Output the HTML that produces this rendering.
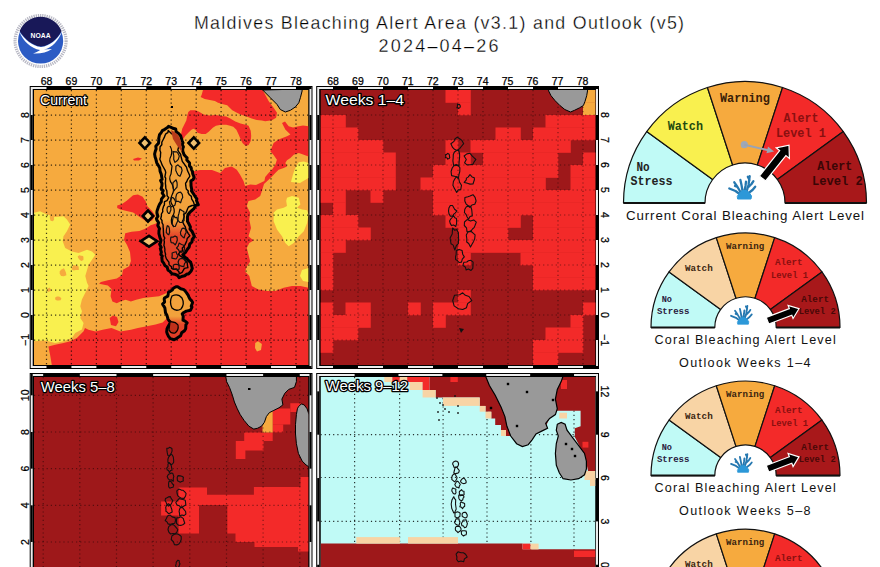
<!DOCTYPE html><html><head><meta charset="utf-8"><style>html,body{margin:0;padding:0;background:#fff;width:880px;height:567px;overflow:hidden}svg{display:block}text{font-family:"Liberation Sans",sans-serif}</style></head><body>
<svg width="880" height="567" viewBox="0 0 880 567">
<rect width="880" height="567" fill="#fff"/>
<defs>
<clipPath id="c1"><rect x="34" y="90" width="274.5" height="275"/></clipPath>
<clipPath id="c2"><rect x="320.5" y="90" width="275" height="275"/></clipPath>
<clipPath id="c3"><rect x="34" y="377" width="274.5" height="200"/></clipPath>
<clipPath id="c4"><rect x="320.5" y="377" width="275" height="200"/></clipPath>
</defs>
<text x="194" y="29.3" font-size="17.8" textLength="490" lengthAdjust="spacing" fill="#000" stroke="#fff" stroke-width="0.3">Maldives Bleaching Alert Area (v3.1) and Outlook (v5)</text>
<text x="378.5" y="51.8" font-size="18" textLength="120" lengthAdjust="spacing" fill="#000" stroke="#fff" stroke-width="0.3">2024–04–26</text>
<g>
<circle cx="40.6" cy="41" r="25.5" fill="none" stroke="#b8b8c4" stroke-width="3.2" stroke-dasharray="1.3 0.9"/>
<circle cx="40.6" cy="41" r="22.6" fill="#2c5bc4"/>
<path d="M19.6,31 A22.6,22.6 0 0 1 61.6,31 C57,39 50,45.5 41,46.5 C32,45.5 25,39 19.6,31 Z" fill="#181858"/>
<path d="M19.3,31.5 C25,39.5 32,46 41,47 C50,46 57,39.5 61.9,31.5 C59,40 52,48 44,49.5 L52,49 C47,52.5 40,54 33,53.5 C37,52 39,51 40,50 C31,48.5 23,41 19.3,31.5 Z" fill="#fff"/>
<text x="40.6" y="37.6" font-size="8" font-weight="bold" fill="#fff" text-anchor="middle" textLength="20" lengthAdjust="spacingAndGlyphs">NOAA</text>
</g>
<rect x="29.70" y="86.00" width="282.80" height="283.00" fill="#000" />
<rect x="30.70" y="87.00" width="280.80" height="281.00" fill="#ececec" />
<rect x="46.48" y="87.00" width="24.95" height="2.00" fill="#000" />
<rect x="46.48" y="366.00" width="24.95" height="2.00" fill="#000" />
<rect x="96.38" y="87.00" width="24.95" height="2.00" fill="#000" />
<rect x="96.38" y="366.00" width="24.95" height="2.00" fill="#000" />
<rect x="146.27" y="87.00" width="24.95" height="2.00" fill="#000" />
<rect x="146.27" y="366.00" width="24.95" height="2.00" fill="#000" />
<rect x="196.17" y="87.00" width="24.95" height="2.00" fill="#000" />
<rect x="196.17" y="366.00" width="24.95" height="2.00" fill="#000" />
<rect x="246.07" y="87.00" width="24.95" height="2.00" fill="#000" />
<rect x="246.07" y="366.00" width="24.95" height="2.00" fill="#000" />
<rect x="295.97" y="87.00" width="15.53" height="2.00" fill="#000" />
<rect x="295.97" y="366.00" width="15.53" height="2.00" fill="#000" />
<rect x="30.70" y="115.00" width="2.00" height="25.00" fill="#000" />
<rect x="309.50" y="115.00" width="2.00" height="25.00" fill="#000" />
<rect x="30.70" y="165.00" width="2.00" height="25.00" fill="#000" />
<rect x="309.50" y="165.00" width="2.00" height="25.00" fill="#000" />
<rect x="30.70" y="215.00" width="2.00" height="25.00" fill="#000" />
<rect x="309.50" y="215.00" width="2.00" height="25.00" fill="#000" />
<rect x="30.70" y="265.00" width="2.00" height="25.00" fill="#000" />
<rect x="309.50" y="265.00" width="2.00" height="25.00" fill="#000" />
<rect x="30.70" y="315.00" width="2.00" height="25.00" fill="#000" />
<rect x="309.50" y="315.00" width="2.00" height="25.00" fill="#000" />
<rect x="32.70" y="89.00" width="276.80" height="277.00" fill="#000" />
<rect x="316.20" y="86.00" width="282.80" height="283.00" fill="#000" />
<rect x="317.20" y="87.00" width="280.80" height="281.00" fill="#ececec" />
<rect x="333.00" y="87.00" width="25.00" height="2.00" fill="#000" />
<rect x="333.00" y="366.00" width="25.00" height="2.00" fill="#000" />
<rect x="383.00" y="87.00" width="25.00" height="2.00" fill="#000" />
<rect x="383.00" y="366.00" width="25.00" height="2.00" fill="#000" />
<rect x="433.00" y="87.00" width="25.00" height="2.00" fill="#000" />
<rect x="433.00" y="366.00" width="25.00" height="2.00" fill="#000" />
<rect x="483.00" y="87.00" width="25.00" height="2.00" fill="#000" />
<rect x="483.00" y="366.00" width="25.00" height="2.00" fill="#000" />
<rect x="533.00" y="87.00" width="25.00" height="2.00" fill="#000" />
<rect x="533.00" y="366.00" width="25.00" height="2.00" fill="#000" />
<rect x="583.00" y="87.00" width="15.00" height="2.00" fill="#000" />
<rect x="583.00" y="366.00" width="15.00" height="2.00" fill="#000" />
<rect x="317.20" y="115.00" width="2.00" height="25.00" fill="#000" />
<rect x="596.00" y="115.00" width="2.00" height="25.00" fill="#000" />
<rect x="317.20" y="165.00" width="2.00" height="25.00" fill="#000" />
<rect x="596.00" y="165.00" width="2.00" height="25.00" fill="#000" />
<rect x="317.20" y="215.00" width="2.00" height="25.00" fill="#000" />
<rect x="596.00" y="215.00" width="2.00" height="25.00" fill="#000" />
<rect x="317.20" y="265.00" width="2.00" height="25.00" fill="#000" />
<rect x="596.00" y="265.00" width="2.00" height="25.00" fill="#000" />
<rect x="317.20" y="315.00" width="2.00" height="25.00" fill="#000" />
<rect x="596.00" y="315.00" width="2.00" height="25.00" fill="#000" />
<rect x="319.20" y="89.00" width="276.80" height="277.00" fill="#000" />
<rect x="29.70" y="373.00" width="282.80" height="227.00" fill="#000" />
<rect x="30.70" y="374.00" width="280.80" height="225.00" fill="#ececec" />
<rect x="43.16" y="374.00" width="36.66" height="2.00" fill="#000" />
<rect x="43.16" y="597.00" width="36.66" height="2.00" fill="#000" />
<rect x="116.48" y="374.00" width="36.66" height="2.00" fill="#000" />
<rect x="116.48" y="597.00" width="36.66" height="2.00" fill="#000" />
<rect x="189.80" y="374.00" width="36.66" height="2.00" fill="#000" />
<rect x="189.80" y="597.00" width="36.66" height="2.00" fill="#000" />
<rect x="263.12" y="374.00" width="36.66" height="2.00" fill="#000" />
<rect x="263.12" y="597.00" width="36.66" height="2.00" fill="#000" />
<rect x="30.70" y="374.00" width="2.00" height="21.33" fill="#000" />
<rect x="309.50" y="374.00" width="2.00" height="21.33" fill="#000" />
<rect x="30.70" y="431.99" width="2.00" height="36.66" fill="#000" />
<rect x="309.50" y="431.99" width="2.00" height="36.66" fill="#000" />
<rect x="30.70" y="505.31" width="2.00" height="36.66" fill="#000" />
<rect x="309.50" y="505.31" width="2.00" height="36.66" fill="#000" />
<rect x="30.70" y="578.63" width="2.00" height="36.66" fill="#000" />
<rect x="309.50" y="578.63" width="2.00" height="36.66" fill="#000" />
<rect x="32.70" y="376.00" width="276.80" height="221.00" fill="#000" />
<rect x="316.20" y="373.00" width="282.80" height="227.00" fill="#000" />
<rect x="317.20" y="374.00" width="280.80" height="225.00" fill="#ececec" />
<rect x="354.60" y="374.00" width="43.89" height="2.00" fill="#000" />
<rect x="354.60" y="597.00" width="43.89" height="2.00" fill="#000" />
<rect x="442.38" y="374.00" width="43.89" height="2.00" fill="#000" />
<rect x="442.38" y="597.00" width="43.89" height="2.00" fill="#000" />
<rect x="530.16" y="374.00" width="43.89" height="2.00" fill="#000" />
<rect x="530.16" y="597.00" width="43.89" height="2.00" fill="#000" />
<rect x="317.20" y="391.35" width="2.00" height="43.35" fill="#000" />
<rect x="596.00" y="391.35" width="2.00" height="43.35" fill="#000" />
<rect x="317.20" y="478.05" width="2.00" height="43.35" fill="#000" />
<rect x="596.00" y="478.05" width="2.00" height="43.35" fill="#000" />
<rect x="317.20" y="564.75" width="2.00" height="43.35" fill="#000" />
<rect x="596.00" y="564.75" width="2.00" height="43.35" fill="#000" />
<rect x="319.20" y="376.00" width="276.80" height="221.00" fill="#000" />
<text x="46.5" y="84.5" font-size="10.5" text-anchor="middle" fill="#000" stroke="#000" stroke-width="0.25">68</text>
<text x="333.0" y="84.5" font-size="10.5" text-anchor="middle" fill="#000" stroke="#000" stroke-width="0.25">68</text>
<text x="71.4" y="84.5" font-size="10.5" text-anchor="middle" fill="#000" stroke="#000" stroke-width="0.25">69</text>
<text x="357.9" y="84.5" font-size="10.5" text-anchor="middle" fill="#000" stroke="#000" stroke-width="0.25">69</text>
<text x="96.4" y="84.5" font-size="10.5" text-anchor="middle" fill="#000" stroke="#000" stroke-width="0.25">70</text>
<text x="382.9" y="84.5" font-size="10.5" text-anchor="middle" fill="#000" stroke="#000" stroke-width="0.25">70</text>
<text x="121.3" y="84.5" font-size="10.5" text-anchor="middle" fill="#000" stroke="#000" stroke-width="0.25">71</text>
<text x="407.8" y="84.5" font-size="10.5" text-anchor="middle" fill="#000" stroke="#000" stroke-width="0.25">71</text>
<text x="146.3" y="84.5" font-size="10.5" text-anchor="middle" fill="#000" stroke="#000" stroke-width="0.25">72</text>
<text x="432.8" y="84.5" font-size="10.5" text-anchor="middle" fill="#000" stroke="#000" stroke-width="0.25">72</text>
<text x="171.2" y="84.5" font-size="10.5" text-anchor="middle" fill="#000" stroke="#000" stroke-width="0.25">73</text>
<text x="457.7" y="84.5" font-size="10.5" text-anchor="middle" fill="#000" stroke="#000" stroke-width="0.25">73</text>
<text x="196.2" y="84.5" font-size="10.5" text-anchor="middle" fill="#000" stroke="#000" stroke-width="0.25">74</text>
<text x="482.7" y="84.5" font-size="10.5" text-anchor="middle" fill="#000" stroke="#000" stroke-width="0.25">74</text>
<text x="221.1" y="84.5" font-size="10.5" text-anchor="middle" fill="#000" stroke="#000" stroke-width="0.25">75</text>
<text x="507.6" y="84.5" font-size="10.5" text-anchor="middle" fill="#000" stroke="#000" stroke-width="0.25">75</text>
<text x="246.1" y="84.5" font-size="10.5" text-anchor="middle" fill="#000" stroke="#000" stroke-width="0.25">76</text>
<text x="532.6" y="84.5" font-size="10.5" text-anchor="middle" fill="#000" stroke="#000" stroke-width="0.25">76</text>
<text x="271.0" y="84.5" font-size="10.5" text-anchor="middle" fill="#000" stroke="#000" stroke-width="0.25">77</text>
<text x="557.5" y="84.5" font-size="10.5" text-anchor="middle" fill="#000" stroke="#000" stroke-width="0.25">77</text>
<text x="296.0" y="84.5" font-size="10.5" text-anchor="middle" fill="#000" stroke="#000" stroke-width="0.25">78</text>
<text x="582.5" y="84.5" font-size="10.5" text-anchor="middle" fill="#000" stroke="#000" stroke-width="0.25">78</text>
<text transform="translate(28.5,115.0) rotate(-90)" font-size="10.5" text-anchor="middle" fill="#000" stroke="#000" stroke-width="0.25">8</text>
<text transform="translate(600.5,115.0) rotate(90)" font-size="10.5" text-anchor="middle" fill="#000" stroke="#000" stroke-width="0.25">8</text>
<text transform="translate(28.5,140.0) rotate(-90)" font-size="10.5" text-anchor="middle" fill="#000" stroke="#000" stroke-width="0.25">7</text>
<text transform="translate(600.5,140.0) rotate(90)" font-size="10.5" text-anchor="middle" fill="#000" stroke="#000" stroke-width="0.25">7</text>
<text transform="translate(28.5,165.0) rotate(-90)" font-size="10.5" text-anchor="middle" fill="#000" stroke="#000" stroke-width="0.25">6</text>
<text transform="translate(600.5,165.0) rotate(90)" font-size="10.5" text-anchor="middle" fill="#000" stroke="#000" stroke-width="0.25">6</text>
<text transform="translate(28.5,190.0) rotate(-90)" font-size="10.5" text-anchor="middle" fill="#000" stroke="#000" stroke-width="0.25">5</text>
<text transform="translate(600.5,190.0) rotate(90)" font-size="10.5" text-anchor="middle" fill="#000" stroke="#000" stroke-width="0.25">5</text>
<text transform="translate(28.5,215.0) rotate(-90)" font-size="10.5" text-anchor="middle" fill="#000" stroke="#000" stroke-width="0.25">4</text>
<text transform="translate(600.5,215.0) rotate(90)" font-size="10.5" text-anchor="middle" fill="#000" stroke="#000" stroke-width="0.25">4</text>
<text transform="translate(28.5,240.0) rotate(-90)" font-size="10.5" text-anchor="middle" fill="#000" stroke="#000" stroke-width="0.25">3</text>
<text transform="translate(600.5,240.0) rotate(90)" font-size="10.5" text-anchor="middle" fill="#000" stroke="#000" stroke-width="0.25">3</text>
<text transform="translate(28.5,265.0) rotate(-90)" font-size="10.5" text-anchor="middle" fill="#000" stroke="#000" stroke-width="0.25">2</text>
<text transform="translate(600.5,265.0) rotate(90)" font-size="10.5" text-anchor="middle" fill="#000" stroke="#000" stroke-width="0.25">2</text>
<text transform="translate(28.5,290.0) rotate(-90)" font-size="10.5" text-anchor="middle" fill="#000" stroke="#000" stroke-width="0.25">1</text>
<text transform="translate(600.5,290.0) rotate(90)" font-size="10.5" text-anchor="middle" fill="#000" stroke="#000" stroke-width="0.25">1</text>
<text transform="translate(28.5,315.0) rotate(-90)" font-size="10.5" text-anchor="middle" fill="#000" stroke="#000" stroke-width="0.25">0</text>
<text transform="translate(600.5,315.0) rotate(90)" font-size="10.5" text-anchor="middle" fill="#000" stroke="#000" stroke-width="0.25">0</text>
<text transform="translate(28.5,340.0) rotate(-90)" font-size="10.5" text-anchor="middle" fill="#000" stroke="#000" stroke-width="0.25">−1</text>
<text transform="translate(600.5,340.0) rotate(90)" font-size="10.5" text-anchor="middle" fill="#000" stroke="#000" stroke-width="0.25">−1</text>
<text transform="translate(28.5,395.3) rotate(-90)" font-size="10.5" text-anchor="middle" fill="#000" stroke="#000" stroke-width="0.25">10</text>
<text transform="translate(28.5,432.0) rotate(-90)" font-size="10.5" text-anchor="middle" fill="#000" stroke="#000" stroke-width="0.25">8</text>
<text transform="translate(28.5,468.6) rotate(-90)" font-size="10.5" text-anchor="middle" fill="#000" stroke="#000" stroke-width="0.25">6</text>
<text transform="translate(28.5,505.3) rotate(-90)" font-size="10.5" text-anchor="middle" fill="#000" stroke="#000" stroke-width="0.25">4</text>
<text transform="translate(28.5,542.0) rotate(-90)" font-size="10.5" text-anchor="middle" fill="#000" stroke="#000" stroke-width="0.25">2</text>
<text transform="translate(600.5,391.4) rotate(90)" font-size="10.5" text-anchor="middle" fill="#000" stroke="#000" stroke-width="0.25">12</text>
<text transform="translate(600.5,434.7) rotate(90)" font-size="10.5" text-anchor="middle" fill="#000" stroke="#000" stroke-width="0.25">9</text>
<text transform="translate(600.5,478.0) rotate(90)" font-size="10.5" text-anchor="middle" fill="#000" stroke="#000" stroke-width="0.25">6</text>
<text transform="translate(600.5,521.4) rotate(90)" font-size="10.5" text-anchor="middle" fill="#000" stroke="#000" stroke-width="0.25">3</text>
<text transform="translate(600.5,564.8) rotate(90)" font-size="10.5" text-anchor="middle" fill="#000" stroke="#000" stroke-width="0.25">0</text>
<g clip-path="url(#c1)">
<rect x="34.00" y="90.00" width="274.50" height="275.00" fill="#F6AA3E" />
<polygon points="34.0,212.8 40.0,211.2 45.1,213.7 55.1,217.0 63.5,216.2 66.9,219.5 70.2,224.6 66.9,231.3 63.5,236.3 62.7,241.3 65.2,248.0 71.9,251.4 78.6,253.0 87.0,249.7 92.0,251.4 95.3,254.7 92.0,259.8 88.6,264.8 85.3,276.0 87.0,282.7 88.6,286.0 85.3,292.8 81.9,299.5 80.3,306.2 81.9,311.2 80.3,317.9 83.6,322.9 81.9,329.6 75.2,333.0 71.9,338.0 63.5,341.3 55.1,343.0 48.4,341.3 43.4,340.5 34.0,341.3" fill="#F9F04F" />
<polygon points="54.1,217.5 54.1,219.9 52.5,221.3 50.6,220.8 49.9,218.6 49.7,216.3 51.0,215.1 52.5,213.2 53.9,215.2" fill="#F6AA3E" stroke="#F6AA3E" stroke-width="0" stroke-linejoin="round"/>
<polygon points="83.5,257.8 83.4,260.0 81.3,260.9 79.6,259.8 78.5,258.6 77.6,256.6 79.3,255.2 81.2,255.7 83.1,255.9" fill="#F6AA3E" stroke="#F6AA3E" stroke-width="0" stroke-linejoin="round"/>
<polygon points="65.9,272.5 66.4,275.2 63.8,276.3 61.1,276.1 59.7,273.7 59.7,271.3 61.5,269.6 63.9,268.2 65.2,270.8" fill="#F6AA3E" stroke="#F6AA3E" stroke-width="0" stroke-linejoin="round"/>
<polygon points="78.8,267.8 78.8,269.9 76.0,270.1 73.5,270.5 71.4,268.9 72.4,266.9 73.5,265.0 76.0,265.4 78.3,265.9" fill="#F6AA3E" stroke="#F6AA3E" stroke-width="0" stroke-linejoin="round"/>
<polygon points="61.4,298.5 60.6,300.3 58.6,300.5 56.9,300.6 55.2,299.5 55.2,297.5 56.9,296.4 58.6,296.4 60.1,297.1" fill="#F6AA3E" stroke="#F6AA3E" stroke-width="0" stroke-linejoin="round"/>
<polygon points="51.2,290.0 50.4,291.2 49.3,291.6 47.8,292.0 47.4,290.6 47.0,289.3 48.1,288.5 49.4,287.6 50.4,288.8" fill="#F6AA3E" stroke="#F6AA3E" stroke-width="0" stroke-linejoin="round"/>
<polygon points="287.0,197.8 292.0,196.1 298.8,197.8 300.4,204.5 297.1,207.8 302.1,209.5 307.1,210.3 308.5,214.5 307.1,222.9 303.8,231.3 298.8,236.3 293.7,243.0 288.7,246.3 285.3,243.0 282.0,236.3 277.0,229.6 273.6,221.2 273.6,212.8 277.0,209.5 283.7,207.8 287.0,206.1 286.2,201.1" fill="#F9F04F" />
<polygon points="298.8,162.2 303.8,161.4 308.5,163.1 308.5,178.0 300.0,183.0 291.0,182.0 292.9,174.8 294.6,169.8 297.1,164.8" fill="#F9F04F" />
<polygon points="302.0,270.0 308.5,268.0 308.5,282.0 303.0,281.0 300.0,276.0" fill="#F9F04F" />
<polygon points="203.0,90.0 201.6,95.0 200.6,97.0 204.7,99.1 209.8,100.1 214.9,101.1 218.0,102.7 223.1,104.2 227.2,105.2 230.2,108.3 232.3,110.3 236.4,112.4 240.5,114.4 246.6,116.5 251.7,118.5 256.8,120.1 261.9,120.5 265.2,121.2 271.9,120.3 276.1,117.8 277.0,112.8 273.6,107.8 268.6,101.1 262.7,90.0" fill="#F32A29" />
<polygon points="187.3,115.5 188.3,111.9 190.3,110.3 195.5,110.3 199.5,111.9 203.6,114.4 209.8,115.5 215.9,114.9 221.0,116.0 226.1,116.5 230.2,118.5 235.3,121.6 240.5,123.6 245.6,124.7 248.6,125.7 250.7,130.8 251.2,135.9 250.7,141.0 248.6,145.1 245.6,146.1 242.5,143.1 240.5,139.0 238.4,133.9 236.4,129.8 233.3,126.7 230.2,125.7 226.1,124.7 221.0,124.7 215.9,125.7 212.8,127.7 208.7,131.8 205.7,133.9 201.6,133.9 197.5,132.8 195.5,129.8 193.4,128.7 191.4,129.8 188.3,132.8 185.2,135.9 183.2,139.0 178.0,140.0 175.0,136.0 181.1,133.9 182.2,128.7 184.2,124.7 186.3,120.6" fill="#F32A29" />
<polygon points="212.0,170.0 220.0,173.1 225.0,168.1 231.7,166.4 236.8,169.8 240.1,174.8 243.5,181.0 245.1,186.0 250.2,184.4 256.0,185.0 264.4,181.0 265.2,177.0 268.6,173.0 271.9,169.8 275.3,164.8 276.9,159.7 273.6,155.0 270.3,151.3 273.6,143.0 278.6,139.6 287.0,136.3 290.4,134.6 285.3,129.6 282.0,122.9 285.0,121.5 288.7,126.2 293.0,127.5 298.8,126.2 303.0,125.4 308.5,126.2 308.5,156.4 303.8,154.7 298.8,153.0 293.7,154.7 290.4,158.0 287.0,160.2 285.3,163.1 287.0,166.4 283.7,168.1 278.6,169.8 275.3,173.1 272.0,176.5 268.6,179.8 264.0,184.0 261.9,191.0 260.2,196.1 255.2,199.4 248.5,201.1 246.8,206.1 250.2,212.8 249.3,219.5 251.0,227.9 248.5,236.3 253.5,240.5 249.3,243.0 246.8,248.0 248.5,254.7 250.2,261.4 246.8,266.5 245.1,271.5 249.3,276.0 251.8,286.1 258.5,289.4 266.9,291.1 275.3,291.1 283.7,287.7 292.0,286.1 300.4,286.1 308.5,287.7 308.5,365.0 51.8,365.0 50.1,354.8 48.4,346.4 55.1,344.7 63.5,343.0 70.2,341.3 76.9,338.0 83.6,331.3 85.0,327.9 88.5,329.7 95.6,331.5 102.6,329.7 111.5,327.9 120.3,331.5 130.9,329.7 137.9,327.9 146.8,326.2 155.6,324.4 162.6,322.6 166.2,319.1 168.0,310.0 168.0,300.0 171.5,290.9 167.9,292.6 159.1,296.2 152.1,297.1 143.2,297.9 136.2,299.7 130.9,301.5 125.6,299.7 120.3,301.5 116.8,303.2 112.4,301.5 110.6,296.2 111.5,289.1 107.9,285.6 99.1,283.8 100.9,282.1 107.9,280.3 116.8,278.5 122.1,275.0 122.9,269.7 129.1,266.2 130.9,260.9 130.0,252.1 127.0,245.0 124.0,240.0 125.2,233.3 131.5,231.7 139.4,230.9 145.8,228.5 150.6,225.3 155.3,223.7 158.5,222.1 160.0,210.0 165.0,195.0 175.0,180.0 190.0,172.0 200.0,170.0" fill="#F32A29" />
<polygon points="117.2,205.5 122.0,203.9 126.7,200.7 133.1,195.2 137.9,194.4 142.6,196.7 145.8,201.5 147.4,206.3 152.1,211.0 155.3,215.8 152.1,220.6 147.4,222.1 142.6,219.0 137.9,215.8 133.1,212.6 126.7,211.0 120.4,209.4 117.2,207.9" fill="#F32A29" />
<polygon points="109.7,318.0 113.0,315.6 117.0,317.0 118.5,322.0 116.0,326.2 111.0,325.0" fill="#F32A29" />
<polygon points="255.2,343.0 258.0,341.3 261.9,344.0 261.0,350.0 257.0,351.4 255.0,348.0" fill="#F6AA3E" />
<polygon points="133.0,159.0 138.0,157.5 142.0,158.5 139.0,160.6 134.0,160.6" fill="#F32A29" />
<line x1="46.5" y1="90" x2="46.5" y2="365" stroke="#000" stroke-opacity="0.75" stroke-width="1.25" stroke-dasharray="1.25 2.95"/>
<line x1="71.4" y1="90" x2="71.4" y2="365" stroke="#000" stroke-opacity="0.75" stroke-width="1.25" stroke-dasharray="1.25 2.95"/>
<line x1="96.4" y1="90" x2="96.4" y2="365" stroke="#000" stroke-opacity="0.75" stroke-width="1.25" stroke-dasharray="1.25 2.95"/>
<line x1="121.3" y1="90" x2="121.3" y2="365" stroke="#000" stroke-opacity="0.75" stroke-width="1.25" stroke-dasharray="1.25 2.95"/>
<line x1="146.3" y1="90" x2="146.3" y2="365" stroke="#000" stroke-opacity="0.75" stroke-width="1.25" stroke-dasharray="1.25 2.95"/>
<line x1="171.2" y1="90" x2="171.2" y2="365" stroke="#000" stroke-opacity="0.75" stroke-width="1.25" stroke-dasharray="1.25 2.95"/>
<line x1="196.2" y1="90" x2="196.2" y2="365" stroke="#000" stroke-opacity="0.75" stroke-width="1.25" stroke-dasharray="1.25 2.95"/>
<line x1="221.1" y1="90" x2="221.1" y2="365" stroke="#000" stroke-opacity="0.75" stroke-width="1.25" stroke-dasharray="1.25 2.95"/>
<line x1="246.1" y1="90" x2="246.1" y2="365" stroke="#000" stroke-opacity="0.75" stroke-width="1.25" stroke-dasharray="1.25 2.95"/>
<line x1="271.0" y1="90" x2="271.0" y2="365" stroke="#000" stroke-opacity="0.75" stroke-width="1.25" stroke-dasharray="1.25 2.95"/>
<line x1="296.0" y1="90" x2="296.0" y2="365" stroke="#000" stroke-opacity="0.75" stroke-width="1.25" stroke-dasharray="1.25 2.95"/>
<line x1="34" y1="115.0" x2="308.5" y2="115.0" stroke="#000" stroke-opacity="0.75" stroke-width="1.25" stroke-dasharray="1.25 2.95"/>
<line x1="34" y1="140.0" x2="308.5" y2="140.0" stroke="#000" stroke-opacity="0.75" stroke-width="1.25" stroke-dasharray="1.25 2.95"/>
<line x1="34" y1="165.0" x2="308.5" y2="165.0" stroke="#000" stroke-opacity="0.75" stroke-width="1.25" stroke-dasharray="1.25 2.95"/>
<line x1="34" y1="190.0" x2="308.5" y2="190.0" stroke="#000" stroke-opacity="0.75" stroke-width="1.25" stroke-dasharray="1.25 2.95"/>
<line x1="34" y1="215.0" x2="308.5" y2="215.0" stroke="#000" stroke-opacity="0.75" stroke-width="1.25" stroke-dasharray="1.25 2.95"/>
<line x1="34" y1="240.0" x2="308.5" y2="240.0" stroke="#000" stroke-opacity="0.75" stroke-width="1.25" stroke-dasharray="1.25 2.95"/>
<line x1="34" y1="265.0" x2="308.5" y2="265.0" stroke="#000" stroke-opacity="0.75" stroke-width="1.25" stroke-dasharray="1.25 2.95"/>
<line x1="34" y1="290.0" x2="308.5" y2="290.0" stroke="#000" stroke-opacity="0.75" stroke-width="1.25" stroke-dasharray="1.25 2.95"/>
<line x1="34" y1="315.0" x2="308.5" y2="315.0" stroke="#000" stroke-opacity="0.75" stroke-width="1.25" stroke-dasharray="1.25 2.95"/>
<line x1="34" y1="340.0" x2="308.5" y2="340.0" stroke="#000" stroke-opacity="0.75" stroke-width="1.25" stroke-dasharray="1.25 2.95"/>
<polygon points="262.7,90.0 270.3,97.7 277.0,104.4 280.3,109.5 285.3,112.0 290.4,110.3 295.4,106.9 298.8,102.8 300.4,97.7 302.1,91.0 302.1,89.0" fill="#999999" stroke="#000" stroke-width="1"/>
<defs><linearGradient id="ang" x1="0" y1="126" x2="0" y2="278" gradientUnits="userSpaceOnUse"><stop offset="0" stop-color="#F2A23C"/><stop offset="0.62" stop-color="#F2A23C"/><stop offset="0.72" stop-color="#E4482A"/><stop offset="1" stop-color="#E03A26"/></linearGradient></defs>
<polygon points="168.5,126.3 167.5,127.6 164.8,129.3 162.3,130.6 161.2,132.6 159.5,134.7 158.7,138.6 158.9,139.4 158.5,143.2 157.1,144.8 155.8,146.3 156.1,148.9 155.2,151.5 154.6,154.1 155.1,157.0 155.8,158.9 156.3,161.2 156.7,162.7 158.8,166.2 159.7,167.9 159.9,169.3 160.1,171.3 161.2,174.1 161.6,176.3 162.1,179.4 160.6,180.5 162.0,183.4 161.9,185.8 161.1,188.7 163.2,190.6 162.2,193.0 164.1,196.0 162.8,197.3 161.4,199.2 161.3,201.7 159.5,204.4 158.3,207.2 157.6,209.2 157.0,211.1 156.9,213.0 157.9,216.2 156.4,218.6 156.8,219.9 158.6,222.6 157.8,225.5 158.3,226.4 159.6,228.8 159.0,230.5 158.9,233.7 159.5,235.9 160.0,237.9 161.0,240.2 160.3,243.1 159.6,244.1 161.2,247.5 160.3,248.6 161.4,252.2 160.8,254.4 162.3,256.1 161.8,257.4 162.2,261.2 163.6,262.9 164.8,265.4 167.1,266.9 168.0,270.2 169.5,271.0 172.0,273.8 174.6,274.2 177.7,275.5 179.1,277.6 182.6,276.2 184.7,275.8 187.1,273.9 188.5,273.9 191.2,270.9 192.3,268.3 191.4,264.8 191.1,263.8 190.7,262.3 187.8,260.0 187.0,258.5 185.0,257.3 182.8,254.8 185.7,252.1 187.4,249.2 189.2,247.0 189.7,244.1 191.9,242.0 192.3,239.3 194.4,236.4 193.1,233.6 192.1,231.5 190.0,229.0 190.4,226.9 188.7,223.5 187.4,221.3 187.5,219.6 187.4,217.2 187.9,214.7 190.3,211.8 192.4,210.0 193.9,208.6 195.8,205.3 198.3,204.8 196.5,200.5 196.9,198.9 195.3,196.8 193.4,193.8 191.5,190.9 191.7,189.2 191.0,185.8 191.0,183.2 190.8,181.0 193.2,179.4 194.1,177.3 192.7,173.7 192.5,171.6 191.5,169.6 191.1,167.6 189.5,165.9 189.6,163.0 186.8,160.0 187.1,157.8 185.7,156.5 184.1,154.7 182.8,151.3 182.7,148.8 183.4,147.0 182.2,144.4 183.0,142.9 182.2,141.0 181.7,139.4 180.6,135.8 178.6,133.5 176.1,131.8 175.7,129.0 172.7,128.2 171.2,127.4" fill="url(#ang)" stroke="#000" stroke-width="3" stroke-linejoin="round"/>
<polygon points="168.2,130.5 167.9,132.7 166.0,133.7 164.9,135.7 164.3,137.4 163.1,139.7 161.8,142.3 161.8,144.8 160.1,146.8 159.9,150.3 160.7,152.4 160.5,154.6 160.4,156.9 159.8,159.2 160.7,161.3 161.4,163.0 162.2,165.2 163.3,167.0 165.2,170.3 165.7,172.3 165.3,174.7 164.9,176.8 165.7,178.2 165.5,181.0 165.4,183.4 165.7,185.8 165.8,188.5 166.8,190.6 167.0,193.1 167.1,195.8 168.7,197.6 167.0,200.7 164.5,201.7 164.4,205.0 163.6,206.2 162.6,209.6 162.8,211.7 161.4,214.0 161.4,216.0 160.7,218.7 162.0,220.5 162.0,222.6 163.1,224.7 163.1,227.2 163.3,228.7 163.4,231.6 163.5,233.1 163.7,236.0 164.8,238.1 164.0,240.1 164.4,241.8 163.9,245.5 164.4,246.6 164.9,249.3 164.8,251.4 165.6,254.2 165.3,255.6 166.4,258.9 167.5,260.3 168.9,262.2 169.0,264.8 171.5,266.8 171.6,268.4 173.7,269.4 176.5,269.0 177.5,270.3 178.9,271.8 179.3,273.8 182.1,272.4 184.4,268.4 187.9,267.6 187.5,265.7 187.2,262.8 185.7,260.9 184.8,259.2 183.0,257.6 180.5,256.2 178.4,254.1 180.6,251.3 182.5,250.5 182.3,248.1 183.6,246.8 185.2,244.4 186.8,240.7 187.2,238.4 189.8,235.7 188.3,233.6 187.3,231.8 185.8,229.1 185.3,226.9 183.8,224.4 182.4,221.3 183.3,219.5 184.3,216.1 183.6,214.6 185.9,212.9 186.4,211.9 187.6,208.8 188.5,207.0 192.1,205.5 194.5,205.1 193.3,201.6 191.6,198.8 191.4,196.4 189.4,194.8 188.0,192.4 188.3,191.0 186.3,189.0 185.7,185.2 185.6,183.1 186.7,181.7 187.7,179.3 189.8,176.4 189.4,174.7 188.0,171.7 187.4,170.4 186.5,167.1 185.1,165.3 183.7,163.2 182.3,161.4 181.4,158.0 180.9,156.1 180.6,154.2 179.2,152.5 177.8,150.1 178.5,147.4 179.0,144.5 178.9,142.4 178.0,140.2 175.9,138.5 176.5,135.9 173.9,135.1 171.6,133.6 169.5,131.8" fill="none" stroke="#000" stroke-width="1.4" stroke-linejoin="round"/>
<defs><linearGradient id="asg" x1="0" y1="287" x2="0" y2="340" gradientUnits="userSpaceOnUse"><stop offset="0" stop-color="#F2A23C"/><stop offset="0.55" stop-color="#F2A23C"/><stop offset="0.7" stop-color="#E4482A"/><stop offset="1" stop-color="#E03A26"/></linearGradient></defs>
<polygon points="173.6,288.0 176.4,286.7 177.7,286.7 180.7,288.7 183.9,289.6 185.4,291.4 186.4,292.6 188.1,295.1 189.0,297.2 190.1,299.2 191.7,300.9 192.6,302.5 191.2,306.3 192.0,307.1 190.4,310.3 186.3,311.1 183.8,312.5 182.2,313.9 183.2,316.2 183.0,320.2 185.1,321.1 187.2,322.9 185.9,324.6 185.7,328.7 184.5,330.7 181.7,332.8 180.6,335.8 177.9,337.5 175.9,338.9 174.2,339.7 170.3,338.6 168.5,336.3 167.2,333.7 166.7,331.8 167.0,328.9 168.0,326.7 169.4,324.2 171.6,323.1 169.4,321.2 168.1,319.2 167.7,317.9 166.9,315.3 165.5,312.8 165.0,308.9 164.8,307.7 162.6,304.1 164.6,302.0 164.2,299.1 164.4,298.0 167.8,296.2 168.6,291.9 169.9,291.6 172.5,289.7" fill="url(#asg)" stroke="#000" stroke-width="3" stroke-linejoin="round"/>
<path d="M171,130 Q179,133 181,142 L182,152 Q177,146 173,139 Z" fill="#B83A1A"/>
<path d="M170,146 q3,5 1,10 q-3,5 1,10 l-1,8 q-3,5 1,10 q3,6 0,11 q-3,6 1,11 q3,6 -1,11 q-2,6 2,10" fill="none" stroke="#000" stroke-width="1.2"/>
<polygon points="179.3,156.0 178.3,159.3 176.8,161.0 175.0,162.4 173.7,159.3 173.8,156.0 173.0,151.7 175.3,151.9 176.7,151.8 177.9,153.2" fill="none" stroke="#111" stroke-width="1.2" stroke-linejoin="round"/>
<polygon points="182.1,170.5 181.2,173.5 180.0,176.3 178.2,175.2 177.0,173.1 175.8,170.5 175.9,166.3 178.0,164.8 179.7,166.6 181.3,167.4" fill="none" stroke="#111" stroke-width="1.2" stroke-linejoin="round"/>
<polygon points="177.2,185.0 176.9,187.3 175.7,188.5 173.9,190.8 173.0,187.4 172.9,185.0 173.0,182.6 174.3,181.5 176.0,179.8 177.0,182.5" fill="none" stroke="#111" stroke-width="1.2" stroke-linejoin="round"/>
<polygon points="182.7,197.5 181.5,199.8 180.6,202.8 178.7,201.4 176.1,201.4 175.8,197.5 176.6,194.1 178.5,192.5 180.6,192.2 182.3,194.4" fill="none" stroke="#111" stroke-width="1.2" stroke-linejoin="round"/>
<polygon points="175.7,202.0 175.0,204.9 173.3,206.2 171.5,206.8 170.0,204.9 169.4,202.0 170.9,200.2 171.6,197.4 173.3,197.9 174.6,199.5" fill="none" stroke="#111" stroke-width="1.2" stroke-linejoin="round"/>
<polygon points="183.9,216.0 184.1,220.5 182.0,222.3 179.9,222.5 178.0,220.4 178.2,216.0 179.0,213.2 179.9,209.2 181.9,210.5 184.0,211.7" fill="none" stroke="#111" stroke-width="1.2" stroke-linejoin="round"/>
<polygon points="177.7,221.0 176.4,223.8 175.4,226.3 173.6,226.5 172.3,224.1 172.4,221.0 172.9,218.7 173.5,215.1 175.1,217.6 177.0,217.3" fill="none" stroke="#111" stroke-width="1.2" stroke-linejoin="round"/>
<polygon points="186.2,232.5 185.0,234.6 184.2,237.9 182.2,236.4 180.8,234.9 180.4,232.5 181.2,230.5 182.1,228.4 184.0,228.1 185.6,229.6" fill="none" stroke="#111" stroke-width="1.2" stroke-linejoin="round"/>
<polygon points="177.3,240.0 176.5,242.5 175.2,244.9 173.3,242.8 171.2,242.7 170.5,240.0 170.9,237.0 173.3,237.1 175.0,236.0 177.0,237.1" fill="none" stroke="#111" stroke-width="1.2" stroke-linejoin="round"/>
<polygon points="184.6,248.0 184.0,250.9 181.7,252.3 179.5,251.6 178.5,249.7 176.5,248.0 178.2,246.1 179.1,243.1 181.5,244.5 183.8,245.2" fill="none" stroke="#111" stroke-width="1.2" stroke-linejoin="round"/>
<polygon points="178.0,255.5 177.2,257.3 176.0,259.0 174.1,258.6 171.9,258.1 172.2,255.5 172.1,253.0 174.1,252.3 176.1,251.7 176.8,254.0" fill="none" stroke="#111" stroke-width="1.2" stroke-linejoin="round"/>
<polygon points="185.8,262.0 184.5,263.7 183.8,266.7 181.3,266.2 178.9,265.0 178.1,262.0 179.2,259.3 181.5,258.4 183.4,258.9 184.6,260.2" fill="none" stroke="#111" stroke-width="1.2" stroke-linejoin="round"/>
<polygon points="179.2,267.0 179.1,269.2 176.9,269.7 175.3,269.0 173.2,269.1 173.3,267.0 173.4,265.1 175.1,264.3 176.8,264.4 178.7,265.0" fill="none" stroke="#111" stroke-width="1.2" stroke-linejoin="round"/>
<polygon points="169.5,230.0 169.6,232.4 168.8,234.8 167.4,233.9 166.3,232.4 166.4,230.0 166.7,228.2 167.3,225.7 168.6,226.3 169.3,228.1" fill="none" stroke="#111" stroke-width="1.2" stroke-linejoin="round"/>
<polygon points="170.9,210.0 170.1,211.7 169.6,213.4 168.5,213.3 167.5,212.1 167.0,210.0 167.3,207.5 168.4,206.4 169.6,206.4 170.8,207.4" fill="none" stroke="#111" stroke-width="1.2" stroke-linejoin="round"/>
<path d="M172,296 q6,-3 10,2 q3,6 -1,11 q-5,3 -9,-1 q-3,-6 0,-12 Z" fill="#F2A23C" stroke="#000" stroke-width="1.3"/>
<path d="M170,322 q5,-1 8,3 q1,5 -3,8 q-4,1 -6,-3 Z" fill="#C0301A" stroke="#000" stroke-width="1.2"/>
<rect x="171.00" y="106.00" width="2.00" height="2.00" fill="#000" />
<polygon points="139.5,143 144.8,137.4 150.10000000000002,143 144.8,148.6" fill="#F0C070" stroke="#000" stroke-width="2.6"/>
<polygon points="188.5,143 193.8,137.4 199.10000000000002,143 193.8,148.6" fill="#F0C070" stroke="#000" stroke-width="2.6"/>
<polygon points="142.8,216 148,210.5 153.2,216 148,221.5" fill="#F0C070" stroke="#000" stroke-width="2.6"/>
<polygon points="140.8,241.2 149,235.79999999999998 157.2,241.2 149,246.6" fill="#F0C070" stroke="#000" stroke-width="2.6"/>
</g>
<text x="40" y="105.3" font-size="15" fill="#fff" stroke="#000" stroke-width="2.6" stroke-linejoin="round" paint-order="stroke" textLength="47" lengthAdjust="spacingAndGlyphs">Current</text>
<g clip-path="url(#c2)">
<rect x="320.50" y="90.00" width="275.00" height="275.00" fill="#9E181A" />
<rect x="445.50" y="90.00" width="25.30" height="12.80" fill="#F32A29" />
<rect x="583.00" y="90.00" width="12.80" height="12.80" fill="#F6AA3E" />
<rect x="458.00" y="102.50" width="12.80" height="12.80" fill="#F32A29" />
<rect x="583.00" y="102.50" width="12.80" height="12.80" fill="#F6AA3E" />
<rect x="320.50" y="115.00" width="25.30" height="12.80" fill="#F32A29" />
<rect x="545.50" y="115.00" width="50.30" height="12.80" fill="#F32A29" />
<rect x="320.50" y="127.50" width="37.80" height="12.80" fill="#F32A29" />
<rect x="495.50" y="127.50" width="25.30" height="12.80" fill="#F32A29" />
<rect x="533.00" y="127.50" width="62.80" height="12.80" fill="#F32A29" />
<rect x="320.50" y="140.00" width="62.80" height="12.80" fill="#F32A29" />
<rect x="445.50" y="140.00" width="12.80" height="12.80" fill="#F32A29" />
<rect x="470.50" y="140.00" width="100.30" height="12.80" fill="#F32A29" />
<rect x="320.50" y="152.50" width="75.30" height="12.80" fill="#F32A29" />
<rect x="445.50" y="152.50" width="25.30" height="12.80" fill="#F32A29" />
<rect x="483.00" y="152.50" width="75.30" height="12.80" fill="#F32A29" />
<rect x="583.00" y="152.50" width="12.80" height="12.80" fill="#F32A29" />
<rect x="320.50" y="165.00" width="75.30" height="12.80" fill="#F32A29" />
<rect x="433.00" y="165.00" width="125.30" height="12.80" fill="#F32A29" />
<rect x="570.50" y="165.00" width="25.30" height="12.80" fill="#F32A29" />
<rect x="320.50" y="177.50" width="75.30" height="12.80" fill="#F32A29" />
<rect x="420.50" y="177.50" width="125.30" height="12.80" fill="#F32A29" />
<rect x="570.50" y="177.50" width="25.30" height="12.80" fill="#F32A29" />
<rect x="320.50" y="190.00" width="25.30" height="12.80" fill="#F32A29" />
<rect x="370.50" y="190.00" width="12.80" height="12.80" fill="#F32A29" />
<rect x="433.00" y="190.00" width="162.80" height="12.80" fill="#F32A29" />
<rect x="333.00" y="202.50" width="12.80" height="12.80" fill="#F32A29" />
<rect x="433.00" y="202.50" width="162.80" height="12.80" fill="#F32A29" />
<rect x="320.50" y="215.00" width="37.80" height="12.80" fill="#F32A29" />
<rect x="445.50" y="215.00" width="75.30" height="12.80" fill="#F32A29" />
<rect x="533.00" y="215.00" width="62.80" height="12.80" fill="#F32A29" />
<rect x="320.50" y="227.50" width="50.30" height="12.80" fill="#F32A29" />
<rect x="458.00" y="227.50" width="50.30" height="12.80" fill="#F32A29" />
<rect x="533.00" y="227.50" width="62.80" height="12.80" fill="#F32A29" />
<rect x="320.50" y="240.00" width="25.30" height="12.80" fill="#F32A29" />
<rect x="458.00" y="240.00" width="137.80" height="12.80" fill="#F32A29" />
<rect x="320.50" y="252.50" width="12.80" height="12.80" fill="#F32A29" />
<rect x="458.00" y="252.50" width="12.80" height="12.80" fill="#F32A29" />
<rect x="520.50" y="252.50" width="75.30" height="12.80" fill="#F32A29" />
<rect x="320.50" y="265.00" width="12.80" height="12.80" fill="#F32A29" />
<rect x="533.00" y="265.00" width="62.80" height="12.80" fill="#F32A29" />
<rect x="320.50" y="277.50" width="12.80" height="12.80" fill="#F32A29" />
<rect x="533.00" y="277.50" width="62.80" height="12.80" fill="#F32A29" />
<rect x="458.00" y="290.00" width="12.80" height="12.80" fill="#F32A29" />
<rect x="320.50" y="302.50" width="12.80" height="12.80" fill="#F32A29" />
<rect x="345.50" y="302.50" width="25.30" height="12.80" fill="#F32A29" />
<rect x="408.00" y="302.50" width="12.80" height="12.80" fill="#F32A29" />
<rect x="433.00" y="302.50" width="37.80" height="12.80" fill="#F32A29" />
<rect x="583.00" y="302.50" width="12.80" height="12.80" fill="#F32A29" />
<rect x="320.50" y="315.00" width="50.30" height="12.80" fill="#F32A29" />
<rect x="433.00" y="315.00" width="12.80" height="12.80" fill="#F32A29" />
<rect x="570.50" y="315.00" width="12.80" height="12.80" fill="#F32A29" />
<rect x="320.50" y="327.50" width="37.80" height="12.80" fill="#F32A29" />
<rect x="545.50" y="327.50" width="37.80" height="12.80" fill="#F32A29" />
<rect x="320.50" y="340.00" width="12.80" height="12.80" fill="#F32A29" />
<rect x="533.00" y="340.00" width="50.30" height="12.80" fill="#F32A29" />
<rect x="533.00" y="352.50" width="25.30" height="12.80" fill="#F32A29" />
<line x1="333.0" y1="90" x2="333.0" y2="365" stroke="#000" stroke-opacity="0.45" stroke-width="1.2" stroke-dasharray="1.2 3"/>
<line x1="358.0" y1="90" x2="358.0" y2="365" stroke="#000" stroke-opacity="0.45" stroke-width="1.2" stroke-dasharray="1.2 3"/>
<line x1="383.0" y1="90" x2="383.0" y2="365" stroke="#000" stroke-opacity="0.45" stroke-width="1.2" stroke-dasharray="1.2 3"/>
<line x1="408.0" y1="90" x2="408.0" y2="365" stroke="#000" stroke-opacity="0.45" stroke-width="1.2" stroke-dasharray="1.2 3"/>
<line x1="433.0" y1="90" x2="433.0" y2="365" stroke="#000" stroke-opacity="0.45" stroke-width="1.2" stroke-dasharray="1.2 3"/>
<line x1="458.0" y1="90" x2="458.0" y2="365" stroke="#000" stroke-opacity="0.45" stroke-width="1.2" stroke-dasharray="1.2 3"/>
<line x1="483.0" y1="90" x2="483.0" y2="365" stroke="#000" stroke-opacity="0.45" stroke-width="1.2" stroke-dasharray="1.2 3"/>
<line x1="508.0" y1="90" x2="508.0" y2="365" stroke="#000" stroke-opacity="0.45" stroke-width="1.2" stroke-dasharray="1.2 3"/>
<line x1="533.0" y1="90" x2="533.0" y2="365" stroke="#000" stroke-opacity="0.45" stroke-width="1.2" stroke-dasharray="1.2 3"/>
<line x1="558.0" y1="90" x2="558.0" y2="365" stroke="#000" stroke-opacity="0.45" stroke-width="1.2" stroke-dasharray="1.2 3"/>
<line x1="583.0" y1="90" x2="583.0" y2="365" stroke="#000" stroke-opacity="0.45" stroke-width="1.2" stroke-dasharray="1.2 3"/>
<line x1="320.5" y1="115.0" x2="595.5" y2="115.0" stroke="#000" stroke-opacity="0.45" stroke-width="1.2" stroke-dasharray="1.2 3"/>
<line x1="320.5" y1="140.0" x2="595.5" y2="140.0" stroke="#000" stroke-opacity="0.45" stroke-width="1.2" stroke-dasharray="1.2 3"/>
<line x1="320.5" y1="165.0" x2="595.5" y2="165.0" stroke="#000" stroke-opacity="0.45" stroke-width="1.2" stroke-dasharray="1.2 3"/>
<line x1="320.5" y1="190.0" x2="595.5" y2="190.0" stroke="#000" stroke-opacity="0.45" stroke-width="1.2" stroke-dasharray="1.2 3"/>
<line x1="320.5" y1="215.0" x2="595.5" y2="215.0" stroke="#000" stroke-opacity="0.45" stroke-width="1.2" stroke-dasharray="1.2 3"/>
<line x1="320.5" y1="240.0" x2="595.5" y2="240.0" stroke="#000" stroke-opacity="0.45" stroke-width="1.2" stroke-dasharray="1.2 3"/>
<line x1="320.5" y1="265.0" x2="595.5" y2="265.0" stroke="#000" stroke-opacity="0.45" stroke-width="1.2" stroke-dasharray="1.2 3"/>
<line x1="320.5" y1="290.0" x2="595.5" y2="290.0" stroke="#000" stroke-opacity="0.45" stroke-width="1.2" stroke-dasharray="1.2 3"/>
<line x1="320.5" y1="315.0" x2="595.5" y2="315.0" stroke="#000" stroke-opacity="0.45" stroke-width="1.2" stroke-dasharray="1.2 3"/>
<line x1="320.5" y1="340.0" x2="595.5" y2="340.0" stroke="#000" stroke-opacity="0.45" stroke-width="1.2" stroke-dasharray="1.2 3"/>
<polygon points="548.6,89.0 548.6,90.9 551.0,95.7 555.0,100.6 559.9,105.5 564.8,109.5 570.5,112.0 574.5,110.3 579.4,107.9 583.4,105.5 585.0,101.4 586.7,95.7 587.5,90.9 587.5,89.0" fill="#999999" stroke="#000" stroke-width="1"/>
<polygon points="463.7,143.7 461.3,146.5 459.6,148.6 457.2,150.5 454.5,149.3 452.4,147.1 450.9,143.7 454.0,141.4 454.9,138.9 457.2,137.2 459.7,138.7 461.9,140.4" fill="none" stroke="#111" stroke-width="1.1" stroke-linejoin="round"/>
<polygon points="459.6,157.5 459.2,160.6 458.9,165.8 456.2,164.4 453.6,165.5 452.9,160.9 453.2,157.5 453.3,154.5 454.4,152.0 456.2,150.7 458.6,150.2 459.6,154.0" fill="none" stroke="#111" stroke-width="1.1" stroke-linejoin="round"/>
<polygon points="449.4,156.2 449.8,157.5 449.0,158.6 447.7,159.1 446.9,157.8 445.4,157.7 445.9,156.2 445.4,154.8 446.7,154.4 447.7,153.4 448.9,154.0 449.5,155.2" fill="none" stroke="#111" stroke-width="1.1" stroke-linejoin="round"/>
<polygon points="459.8,171.5 459.0,174.3 458.4,178.3 456.0,176.8 454.3,176.3 451.6,175.6 451.1,171.5 452.2,168.0 453.9,165.7 456.0,165.5 458.2,165.4 459.9,167.8" fill="none" stroke="#111" stroke-width="1.1" stroke-linejoin="round"/>
<polygon points="461.5,185.2 460.7,189.8 458.1,189.9 456.7,192.5 455.3,190.0 454.2,188.1 452.9,185.2 453.4,181.5 454.8,178.9 456.7,176.5 458.7,178.5 459.5,182.1" fill="none" stroke="#111" stroke-width="1.1" stroke-linejoin="round"/>
<polygon points="475.9,159.5 474.1,161.9 472.7,164.4 470.0,164.8 467.0,164.9 464.6,162.8 466.3,159.5 464.1,156.0 466.9,153.9 470.0,153.3 472.1,155.8 473.6,157.3" fill="none" stroke="#111" stroke-width="1.1" stroke-linejoin="round"/>
<polygon points="474.4,179.8 473.8,181.5 473.0,184.0 470.0,184.1 467.4,183.3 464.2,182.4 466.3,179.8 466.4,178.1 468.1,177.1 470.0,174.7 472.1,176.9 474.3,177.8" fill="none" stroke="#111" stroke-width="1.1" stroke-linejoin="round"/>
<polygon points="476.1,201.0 474.8,204.3 471.9,205.0 470.0,207.5 467.8,205.5 466.0,203.8 464.8,201.0 464.9,197.5 467.9,196.7 470.0,196.0 473.0,194.7 475.1,197.4" fill="none" stroke="#111" stroke-width="1.1" stroke-linejoin="round"/>
<polygon points="472.0,212.5 472.3,215.9 470.0,216.5 468.5,219.3 467.0,216.7 466.2,214.6 464.4,212.5 464.8,209.2 466.4,206.7 468.5,206.1 470.7,206.4 471.7,209.6" fill="none" stroke="#111" stroke-width="1.1" stroke-linejoin="round"/>
<polygon points="475.0,225.5 474.1,227.6 472.5,229.0 470.5,231.7 467.0,231.6 466.5,227.8 464.3,225.5 464.5,222.0 467.1,219.6 470.5,221.1 473.7,219.9 476.3,222.1" fill="none" stroke="#111" stroke-width="1.1" stroke-linejoin="round"/>
<polygon points="474.7,238.8 473.6,241.4 472.4,243.6 470.5,247.1 468.7,243.5 466.7,242.0 466.8,238.8 466.3,235.1 467.9,232.0 470.5,231.0 472.8,232.8 475.1,234.8" fill="none" stroke="#111" stroke-width="1.1" stroke-linejoin="round"/>
<polygon points="456.9,211.0 455.1,213.1 453.8,214.1 452.5,216.3 450.4,216.1 449.0,213.9 448.5,211.0 448.9,208.0 450.3,205.5 452.5,205.5 453.8,207.8 454.6,209.2" fill="none" stroke="#111" stroke-width="1.1" stroke-linejoin="round"/>
<polygon points="456.6,221.0 456.6,223.6 455.7,226.5 453.5,224.9 451.6,225.6 450.3,223.6 449.6,221.0 450.9,218.8 452.1,217.5 453.5,215.5 454.8,217.8 456.5,218.5" fill="none" stroke="#111" stroke-width="1.1" stroke-linejoin="round"/>
<polygon points="458.6,238.0 458.4,243.6 456.4,245.5 454.8,250.0 453.2,245.1 451.0,243.7 450.1,238.0 452.2,234.0 452.6,228.0 454.8,230.3 456.6,229.6 458.4,232.5" fill="none" stroke="#111" stroke-width="1.1" stroke-linejoin="round"/>
<polygon points="464.3,256.9 462.3,259.2 461.5,262.1 459.1,262.5 457.4,260.6 455.6,259.5 455.5,256.9 456.1,254.7 456.3,250.6 459.1,249.4 462.1,250.5 462.7,254.3" fill="none" stroke="#111" stroke-width="1.1" stroke-linejoin="round"/>
<polygon points="473.0,265.4 472.8,268.3 471.0,270.5 468.4,269.1 466.1,270.0 465.5,267.3 462.9,265.4 463.8,262.3 466.8,262.0 468.4,260.7 470.9,260.3 473.1,262.2" fill="none" stroke="#111" stroke-width="1.1" stroke-linejoin="round"/>
<polygon points="471.8,300.5 467.6,303.6 466.5,307.7 462.7,309.5 458.4,308.7 454.1,305.9 452.7,300.5 454.5,295.3 459.7,294.7 462.7,292.8 465.4,295.3 469.0,296.5" fill="none" stroke="#111" stroke-width="1.1" stroke-linejoin="round"/>
<polygon points="460.3,106.5 459.9,107.6 459.2,108.1 458.5,108.5 457.9,107.9 456.9,107.8 457.3,106.5 457.5,105.7 457.5,104.3 458.5,104.6 459.4,104.4 460.1,105.3" fill="none" stroke="#111" stroke-width="1.1" stroke-linejoin="round"/>
<path d="M459,328 l5,1 l-3,4 Z" fill="#111"/>
</g>
<text x="325.6" y="105.3" font-size="15" fill="#fff" stroke="#000" stroke-width="2.6" stroke-linejoin="round" paint-order="stroke" textLength="78.5" lengthAdjust="spacingAndGlyphs">Weeks 1–4</text>
<g clip-path="url(#c3)">
<rect x="34.00" y="377.00" width="274.50" height="200.00" fill="#9E181A" />
<polygon points="244.2,432.4 272.7,432.4 272.7,440.9 263.6,440.9 263.6,450.5 245.4,450.5 245.4,459.0 235.8,459.0 235.8,440.9 244.2,440.9" fill="#F32A29" />
<rect x="272.70" y="408.50" width="17.60" height="16.00" fill="#F32A29" />
<rect x="272.70" y="424.40" width="10.50" height="8.00" fill="#F32A29" />
<rect x="290.30" y="403.20" width="10.60" height="8.80" fill="#F32A29" />
<polygon points="262.5,411.0 272.7,409.0 272.7,432.4 262.5,432.4" fill="#F6AA3E" />
<polygon points="178.6,487.4 207.0,487.4 207.0,494.8 253.9,494.8 253.9,487.0 300.5,487.0 300.5,477.0 308.5,477.0 308.5,551.5 298.0,551.5 298.0,547.1 254.5,547.1 254.5,542.0 235.5,542.0 235.5,533.5 227.3,533.5 227.3,505.0 199.0,505.0 199.0,533.5 178.6,533.5 178.6,515.5 161.1,515.5 161.1,501.5 178.6,501.5" fill="#F32A29" />
<line x1="43.2" y1="377" x2="43.2" y2="567" stroke="#000" stroke-opacity="0.45" stroke-width="1.2" stroke-dasharray="1.2 3"/>
<line x1="79.8" y1="377" x2="79.8" y2="567" stroke="#000" stroke-opacity="0.45" stroke-width="1.2" stroke-dasharray="1.2 3"/>
<line x1="116.5" y1="377" x2="116.5" y2="567" stroke="#000" stroke-opacity="0.45" stroke-width="1.2" stroke-dasharray="1.2 3"/>
<line x1="153.1" y1="377" x2="153.1" y2="567" stroke="#000" stroke-opacity="0.45" stroke-width="1.2" stroke-dasharray="1.2 3"/>
<line x1="189.8" y1="377" x2="189.8" y2="567" stroke="#000" stroke-opacity="0.45" stroke-width="1.2" stroke-dasharray="1.2 3"/>
<line x1="226.5" y1="377" x2="226.5" y2="567" stroke="#000" stroke-opacity="0.45" stroke-width="1.2" stroke-dasharray="1.2 3"/>
<line x1="263.1" y1="377" x2="263.1" y2="567" stroke="#000" stroke-opacity="0.45" stroke-width="1.2" stroke-dasharray="1.2 3"/>
<line x1="299.8" y1="377" x2="299.8" y2="567" stroke="#000" stroke-opacity="0.45" stroke-width="1.2" stroke-dasharray="1.2 3"/>
<line x1="34" y1="395.3" x2="308.5" y2="395.3" stroke="#000" stroke-opacity="0.45" stroke-width="1.2" stroke-dasharray="1.2 3"/>
<line x1="34" y1="432.0" x2="308.5" y2="432.0" stroke="#000" stroke-opacity="0.45" stroke-width="1.2" stroke-dasharray="1.2 3"/>
<line x1="34" y1="468.6" x2="308.5" y2="468.6" stroke="#000" stroke-opacity="0.45" stroke-width="1.2" stroke-dasharray="1.2 3"/>
<line x1="34" y1="505.3" x2="308.5" y2="505.3" stroke="#000" stroke-opacity="0.45" stroke-width="1.2" stroke-dasharray="1.2 3"/>
<line x1="34" y1="542.0" x2="308.5" y2="542.0" stroke="#000" stroke-opacity="0.45" stroke-width="1.2" stroke-dasharray="1.2 3"/>
<line x1="34" y1="578.6" x2="308.5" y2="578.6" stroke="#000" stroke-opacity="0.45" stroke-width="1.2" stroke-dasharray="1.2 3"/>
<polygon points="225.7,376.0 226.6,381.6 229.5,387.4 232.4,395.2 234.4,402.0 237.3,408.8 240.2,414.6 244.1,420.4 248.9,426.2 253.8,429.1 257.7,428.2 261.5,426.2 264.4,422.3 266.4,416.5 269.3,412.7 273.2,410.7 279.0,407.8 282.9,404.9 281.9,399.1 284.8,393.3 288.7,389.4 294.5,387.4 296.4,381.6 296.4,376.0" fill="#999999" stroke="#000" stroke-width="1"/>
<polygon points="298.4,406.8 301.3,403.9 304.2,404.9 307.1,408.8 309.0,414.6 309.0,466.9 306.1,465.0 302.2,461.1 298.4,453.4 296.4,443.7 295.5,434.0 295.5,424.3 296.4,414.6 297.4,408.8" fill="#999999" stroke="#000" stroke-width="1"/>
<rect x="248.00" y="388.00" width="2.50" height="2.00" fill="#000" />
<polygon points="172.1,450.9 171.5,452.7 170.6,454.2 169.5,456.0 167.9,455.5 167.3,452.9 167.0,450.9 166.8,448.2 168.6,448.2 169.5,447.3 170.6,447.7 171.9,448.5" fill="none" stroke="#111" stroke-width="1.1" stroke-linejoin="round"/>
<polygon points="173.6,459.5 173.7,462.3 172.4,464.1 170.8,464.7 169.5,463.0 167.9,462.2 167.9,459.5 168.5,457.4 169.5,456.0 170.8,454.3 172.3,455.0 173.3,457.1" fill="none" stroke="#111" stroke-width="1.1" stroke-linejoin="round"/>
<polygon points="171.7,468.0 172.0,470.3 170.4,470.5 169.5,472.9 168.6,470.6 167.3,470.0 166.7,468.0 168.0,466.6 168.0,463.9 169.5,462.9 170.8,464.4 171.4,466.2" fill="none" stroke="#111" stroke-width="1.1" stroke-linejoin="round"/>
<polygon points="173.8,476.5 173.3,478.1 173.3,481.3 171.3,479.8 169.8,480.2 168.3,478.9 167.2,476.5 168.5,474.3 170.1,473.7 171.3,473.0 172.7,473.3 173.3,474.9" fill="none" stroke="#111" stroke-width="1.1" stroke-linejoin="round"/>
<polygon points="173.7,485.0 173.0,487.3 171.4,487.5 170.5,488.0 169.5,487.9 168.7,486.7 168.6,485.0 168.6,483.2 169.1,481.1 170.5,481.5 171.6,482.1 172.1,483.5" fill="none" stroke="#111" stroke-width="1.1" stroke-linejoin="round"/>
<polygon points="183.1,479.1 183.3,481.0 181.6,481.6 180.2,482.3 178.9,481.4 177.5,480.7 177.3,479.1 177.2,477.4 178.1,475.6 180.2,475.9 181.8,476.3 183.4,477.3" fill="none" stroke="#111" stroke-width="1.1" stroke-linejoin="round"/>
<polygon points="186.1,493.5 185.6,496.0 184.1,498.4 181.3,498.2 179.2,497.1 177.7,495.6 177.1,493.5 176.8,490.9 178.8,489.1 181.3,490.1 183.1,490.3 184.6,491.6" fill="none" stroke="#111" stroke-width="1.1" stroke-linejoin="round"/>
<polygon points="185.6,502.5 185.8,505.1 183.5,506.3 181.3,507.8 179.4,505.8 177.0,505.0 175.8,502.5 177.6,500.3 179.0,498.6 181.3,499.1 183.0,499.5 185.2,500.2" fill="none" stroke="#111" stroke-width="1.1" stroke-linejoin="round"/>
<polygon points="185.6,511.5 185.9,514.1 184.0,515.6 181.9,515.0 179.7,516.0 179.5,513.1 179.1,511.5 179.4,509.8 180.1,508.0 181.9,506.8 183.3,508.6 184.3,509.9" fill="none" stroke="#111" stroke-width="1.1" stroke-linejoin="round"/>
<polygon points="183.8,520.5 184.8,523.3 182.8,524.7 180.7,525.4 178.4,525.2 176.5,523.3 176.4,520.5 176.8,517.9 179.2,517.6 180.7,516.8 182.1,517.6 183.4,518.7" fill="none" stroke="#111" stroke-width="1.1" stroke-linejoin="round"/>
<polygon points="172.8,500.5 171.8,502.7 170.6,504.9 168.4,506.1 166.7,503.9 166.0,502.1 165.1,500.5 165.5,498.5 167.0,497.7 168.4,496.9 170.4,496.6 171.2,498.6" fill="none" stroke="#111" stroke-width="1.1" stroke-linejoin="round"/>
<polygon points="171.8,509.4 172.2,512.0 170.2,513.0 168.5,513.7 167.2,512.1 165.9,511.2 166.0,509.4 165.7,507.4 166.6,505.2 168.5,503.8 170.4,505.2 171.1,507.5" fill="none" stroke="#111" stroke-width="1.1" stroke-linejoin="round"/>
<polygon points="175.5,520.5 174.8,523.2 172.0,523.8 170.1,524.4 168.1,523.9 167.2,522.2 165.2,520.5 166.4,518.4 167.5,516.0 170.1,515.1 172.2,516.9 175.1,517.6" fill="none" stroke="#111" stroke-width="1.1" stroke-linejoin="round"/>
<polygon points="177.8,529.5 176.9,532.2 175.1,533.9 172.9,533.5 170.6,534.0 168.8,532.2 168.0,529.5 168.7,526.7 170.7,525.0 172.9,524.4 174.7,525.9 176.0,527.4" fill="none" stroke="#111" stroke-width="1.1" stroke-linejoin="round"/>
<polygon points="181.2,539.5 180.3,542.0 178.9,543.9 176.8,544.9 174.4,544.6 173.5,541.8 171.2,539.5 171.9,536.0 174.3,534.3 176.8,533.7 179.1,534.7 181.2,536.4" fill="none" stroke="#111" stroke-width="1.1" stroke-linejoin="round"/>
<polygon points="180.0,563.9 179.4,565.0 179.0,566.5 177.9,567.6 176.5,567.3 175.6,565.8 176.1,563.9 176.2,562.4 176.9,561.4 177.9,560.2 179.2,560.7 179.3,562.7" fill="none" stroke="#111" stroke-width="1.1" stroke-linejoin="round"/>
</g>
<text x="40.8" y="391.9" font-size="15" fill="#fff" stroke="#000" stroke-width="2.6" stroke-linejoin="round" paint-order="stroke" textLength="74" lengthAdjust="spacingAndGlyphs">Weeks 5–8</text>
<g clip-path="url(#c4)">
<rect x="320.50" y="377.00" width="275.00" height="200.00" fill="#C0FAF6" />
<line x1="354.6" y1="377" x2="354.6" y2="567" stroke="#000" stroke-opacity="0.8" stroke-width="1.2" stroke-dasharray="1.2 3"/>
<line x1="399.6" y1="377" x2="399.6" y2="567" stroke="#000" stroke-opacity="0.8" stroke-width="1.2" stroke-dasharray="1.2 3"/>
<line x1="443.1" y1="377" x2="443.1" y2="567" stroke="#000" stroke-opacity="0.8" stroke-width="1.2" stroke-dasharray="1.2 3"/>
<line x1="487.0" y1="377" x2="487.0" y2="567" stroke="#000" stroke-opacity="0.8" stroke-width="1.2" stroke-dasharray="1.2 3"/>
<line x1="530.9" y1="377" x2="530.9" y2="567" stroke="#000" stroke-opacity="0.8" stroke-width="1.2" stroke-dasharray="1.2 3"/>
<line x1="574.0" y1="377" x2="574.0" y2="567" stroke="#000" stroke-opacity="0.8" stroke-width="1.2" stroke-dasharray="1.2 3"/>
<line x1="320.5" y1="434.7" x2="595.5" y2="434.7" stroke="#000" stroke-opacity="0.8" stroke-width="1.2" stroke-dasharray="1.2 3"/>
<line x1="320.5" y1="477.5" x2="595.5" y2="477.5" stroke="#000" stroke-opacity="0.8" stroke-width="1.2" stroke-dasharray="1.2 3"/>
<line x1="320.5" y1="521.4" x2="595.5" y2="521.4" stroke="#000" stroke-opacity="0.8" stroke-width="1.2" stroke-dasharray="1.2 3"/>
<polygon points="429.4,376.0 595.5,376.0 595.5,471.0 588.0,471.0 586.0,461.0 580.0,447.0 574.8,437.0 574.8,428.2 580.6,426.3 580.6,410.7 557.3,410.7 549.6,418.5 545.0,428.0 536.0,434.0 510.7,436.0 506.0,436.0 506.0,430.0 501.0,430.0 501.0,425.0 495.2,425.0 495.2,418.5 491.3,418.5 491.3,411.7 485.5,411.7 485.5,405.9 479.7,405.9 479.7,397.5 435.6,397.5 435.6,390.0 429.4,390.0" fill="#9E181A" />
<rect x="384.30" y="376.00" width="8.00" height="6.00" fill="#F8D4A5" />
<rect x="392.30" y="376.00" width="7.50" height="6.00" fill="#F32A29" />
<rect x="399.80" y="376.00" width="7.40" height="6.00" fill="#F8D4A5" />
<rect x="407.20" y="376.00" width="22.20" height="6.00" fill="#F32A29" />
<rect x="450.40" y="376.00" width="7.40" height="6.00" fill="#F32A29" />
<rect x="409.60" y="382.00" width="13.00" height="8.00" fill="#F8D4A5" />
<rect x="422.60" y="382.00" width="6.80" height="8.00" fill="#F32A29" />
<rect x="422.60" y="390.00" width="13.00" height="7.50" fill="#F8D4A5" />
<rect x="443.00" y="397.50" width="36.70" height="8.40" fill="#F8D4A5" />
<rect x="479.70" y="405.90" width="5.80" height="5.80" fill="#F8D4A5" />
<rect x="485.50" y="411.70" width="5.80" height="6.80" fill="#F8D4A5" />
<rect x="501.00" y="430.00" width="5.00" height="6.00" fill="#F8D4A5" />
<rect x="559.30" y="412.70" width="7.70" height="5.80" fill="#F8D4A5" />
<rect x="584.50" y="471.00" width="11.00" height="9.00" fill="#F8D4A5" />
<rect x="590.00" y="478.00" width="5.50" height="8.00" fill="#F8D4A5" />
<rect x="561.00" y="380.00" width="6.00" height="9.00" fill="#F32A29" />
<rect x="582.50" y="441.80" width="5.90" height="5.80" fill="#F32A29" />
<polygon points="320.5,543.6 522.5,543.6 522.5,549.2 595.5,549.2 595.5,580.0 320.5,580.0" fill="#9E181A" />
<rect x="522.50" y="543.60" width="8.10" height="5.80" fill="#F32A29" />
<rect x="530.60" y="543.60" width="8.00" height="5.80" fill="#F8D4A5" />
<rect x="574.00" y="550.70" width="21.50" height="6.30" fill="#F32A29" />
<rect x="356.30" y="537.10" width="43.60" height="6.50" fill="#F8D4A5" />
<rect x="408.00" y="537.10" width="50.00" height="6.50" fill="#F8D4A5" />
<polygon points="485.5,376.0 489.4,385.5 495.2,395.2 501.0,406.9 504.9,416.6 506.9,426.3 510.7,436.0 516.6,443.7 522.4,446.6 528.2,444.7 532.1,439.8 536.0,434.0 543.7,430.1 547.6,428.2 545.7,423.4 549.6,418.5 555.4,414.6 557.3,408.8 555.4,399.1 557.3,389.4 561.2,381.6 563.1,376.0" fill="#999999" stroke="#000" stroke-width="1.2"/>
<polygon points="557.3,424.3 561.2,422.4 565.1,424.3 567.0,430.1 572.8,437.9 578.7,445.7 584.5,453.4 586.4,461.2 586.4,469.0 584.5,474.8 578.7,478.7 570.9,480.0 563.1,478.7 559.3,472.8 556.3,465.1 555.4,453.4 556.3,443.7 558.3,436.0 556.3,430.1" fill="#999999" stroke="#000" stroke-width="1.2"/>
<rect x="506.80" y="382.80" width="2.40" height="2.40" fill="#000" />
<rect x="525.80" y="390.80" width="2.40" height="2.40" fill="#000" />
<rect x="551.80" y="398.80" width="2.40" height="2.40" fill="#000" />
<rect x="515.80" y="424.80" width="2.40" height="2.40" fill="#000" />
<rect x="489.80" y="406.80" width="2.40" height="2.40" fill="#000" />
<rect x="564.80" y="442.80" width="2.40" height="2.40" fill="#000" />
<rect x="573.80" y="454.80" width="2.40" height="2.40" fill="#000" />
<rect x="570.80" y="447.80" width="2.40" height="2.40" fill="#000" />
<polygon points="458.6,464.0 458.1,465.8 457.0,467.1 455.5,467.4 453.9,467.2 453.4,465.4 452.6,464.0 453.1,462.4 454.3,461.5 455.5,461.1 456.8,461.3 458.1,462.2" fill="none" stroke="#111" stroke-width="1.1" stroke-linejoin="round"/>
<polygon points="459.3,470.5 458.8,472.4 457.7,473.3 456.5,473.4 455.1,473.8 453.8,472.7 454.4,470.5 454.7,469.0 455.2,467.4 456.5,467.0 457.5,468.1 458.2,469.1" fill="none" stroke="#111" stroke-width="1.1" stroke-linejoin="round"/>
<polygon points="457.1,477.5 456.6,479.2 455.8,480.6 454.5,481.8 453.2,480.7 451.9,479.6 451.8,477.5 452.3,475.7 453.3,474.5 454.5,473.5 455.6,474.8 456.1,476.2" fill="none" stroke="#111" stroke-width="1.1" stroke-linejoin="round"/>
<polygon points="460.3,484.5 459.4,486.0 458.9,488.0 457.5,487.3 456.4,487.2 455.6,486.0 454.8,484.5 455.7,483.0 456.4,481.8 457.5,481.1 458.5,482.0 459.3,483.0" fill="none" stroke="#111" stroke-width="1.1" stroke-linejoin="round"/>
<polygon points="466.1,481.0 466.1,482.8 464.7,483.5 463.5,483.6 462.4,483.2 461.2,482.6 460.5,481.0 461.5,479.6 462.4,478.7 463.5,478.1 464.6,478.7 465.3,479.7" fill="none" stroke="#111" stroke-width="1.1" stroke-linejoin="round"/>
<polygon points="455.7,491.0 456.0,492.7 455.2,494.0 454.0,493.9 453.1,493.3 452.6,492.2 451.8,491.0 452.0,489.3 452.8,487.9 454.0,488.5 454.9,488.7 455.9,489.3" fill="none" stroke="#111" stroke-width="1.1" stroke-linejoin="round"/>
<polygon points="464.0,493.0 464.1,494.8 462.7,495.4 461.5,495.5 460.2,495.7 459.6,494.3 459.3,493.0 459.4,491.5 460.4,490.8 461.5,489.6 462.5,491.0 464.0,491.3" fill="none" stroke="#111" stroke-width="1.1" stroke-linejoin="round"/>
<polygon points="455.5,504.0 456.2,509.0 455.0,511.9 453.8,513.0 452.7,510.6 451.7,508.2 451.2,504.0 451.9,500.1 452.8,498.4 453.8,496.7 454.6,498.6 455.7,499.9" fill="none" stroke="#111" stroke-width="1.1" stroke-linejoin="round"/>
<polygon points="464.1,497.0 463.1,498.1 462.8,499.7 461.5,500.7 460.0,500.1 459.0,498.7 458.7,497.0 458.8,495.1 460.5,495.0 461.5,494.7 462.5,494.8 463.4,495.7" fill="none" stroke="#111" stroke-width="1.1" stroke-linejoin="round"/>
<polygon points="464.7,505.0 464.6,506.5 463.5,507.1 462.5,508.7 461.4,507.2 459.8,506.8 460.5,505.0 460.2,503.4 461.0,501.8 462.5,502.7 463.5,502.9 464.6,503.5" fill="none" stroke="#111" stroke-width="1.1" stroke-linejoin="round"/>
<polygon points="460.0,515.0 459.8,516.6 458.6,517.3 457.5,518.0 456.3,517.4 455.0,516.8 455.0,515.0 454.9,513.2 456.2,512.2 457.5,511.8 458.8,512.2 460.2,513.2" fill="none" stroke="#111" stroke-width="1.1" stroke-linejoin="round"/>
<polygon points="467.3,515.0 467.0,516.8 465.9,517.9 464.5,517.8 463.5,517.1 462.3,516.5 462.1,515.0 462.3,513.5 463.3,512.6 464.5,512.2 465.8,512.4 466.5,513.6" fill="none" stroke="#111" stroke-width="1.1" stroke-linejoin="round"/>
<polygon points="459.9,522.0 459.6,523.5 459.0,525.2 457.5,525.1 456.3,524.6 455.2,523.6 454.4,522.0 455.4,520.6 456.0,518.9 457.5,518.7 459.0,518.9 459.2,520.8" fill="none" stroke="#111" stroke-width="1.1" stroke-linejoin="round"/>
<polygon points="467.4,523.5 466.9,525.4 466.0,527.2 464.5,527.8 463.5,526.0 461.9,525.6 461.4,523.5 462.4,521.8 463.1,520.1 464.5,520.0 466.1,519.7 466.6,521.8" fill="none" stroke="#111" stroke-width="1.1" stroke-linejoin="round"/>
<polygon points="461.1,529.0 460.8,530.6 459.4,531.4 458.0,532.7 456.7,531.2 455.6,530.4 455.3,529.0 455.5,527.5 456.4,526.2 458.0,526.4 459.5,526.4 460.5,527.6" fill="none" stroke="#111" stroke-width="1.1" stroke-linejoin="round"/>
<polygon points="466.5,533.0 466.1,534.8 464.6,535.2 463.5,536.0 462.5,535.1 461.6,534.3 461.4,533.0 461.3,531.5 462.4,530.7 463.5,530.7 464.6,530.8 466.2,531.1" fill="none" stroke="#111" stroke-width="1.1" stroke-linejoin="round"/>
<polygon points="467.2,557.0 464.4,558.9 463.7,561.7 461.0,561.0 458.3,561.7 456.7,559.5 456.9,557.0 456.1,554.2 458.0,551.8 461.0,552.7 463.4,552.8 465.6,554.3" fill="none" stroke="#111" stroke-width="1.1" stroke-linejoin="round"/>
<rect x="436.20" y="397.20" width="1.60" height="1.60" fill="#111" />
<rect x="439.20" y="402.20" width="1.60" height="1.60" fill="#111" />
<rect x="442.20" y="404.20" width="1.60" height="1.60" fill="#111" />
<rect x="444.20" y="408.20" width="1.60" height="1.60" fill="#111" />
<rect x="448.20" y="411.20" width="1.60" height="1.60" fill="#111" />
<rect x="437.20" y="411.20" width="1.60" height="1.60" fill="#111" />
<rect x="438.20" y="419.20" width="1.60" height="1.60" fill="#111" />
<rect x="457.20" y="405.20" width="1.60" height="1.60" fill="#111" />
<rect x="457.20" y="412.20" width="1.60" height="1.60" fill="#111" />
<rect x="454.20" y="395.20" width="1.60" height="1.60" fill="#111" />
</g>
<text x="325.6" y="391.3" font-size="15" fill="#fff" stroke="#000" stroke-width="2.6" stroke-linejoin="round" paint-order="stroke" textLength="82.5" lengthAdjust="spacingAndGlyphs">Weeks 9–12</text>
<path d="M623.50,203.00 A121.5,121.5 0 0 1 646.70,131.58 L712.64,179.49 A40,40 0 0 0 705.00,203.00 Z" fill="#C0FAF6" stroke="#111" stroke-width="1.2" stroke-linejoin="round"/>
<path d="M646.70,131.58 A121.5,121.5 0 0 1 707.45,87.45 L732.64,164.96 A40,40 0 0 0 712.64,179.49 Z" fill="#F9F04F" stroke="#111" stroke-width="1.2" stroke-linejoin="round"/>
<path d="M707.45,87.45 A121.5,121.5 0 0 1 782.55,87.45 L757.36,164.96 A40,40 0 0 0 732.64,164.96 Z" fill="#F6AA3E" stroke="#111" stroke-width="1.2" stroke-linejoin="round"/>
<path d="M782.55,87.45 A121.5,121.5 0 0 1 843.30,131.58 L777.36,179.49 A40,40 0 0 0 757.36,164.96 Z" fill="#F32A29" stroke="#111" stroke-width="1.2" stroke-linejoin="round"/>
<path d="M843.30,131.58 A121.5,121.5 0 0 1 866.50,203.00 L785.00,203.00 A40,40 0 0 0 777.36,179.49 Z" fill="#A8181A" stroke="#111" stroke-width="1.2" stroke-linejoin="round"/>
<path d="M623.5,203 L705,203 M785,203 L866.5,203" stroke="#111" stroke-width="2"/>
<text x="636.5" y="171" font-family="Liberation Mono" font-weight="bold" font-size="12" fill="#222" textLength="13.2" lengthAdjust="spacingAndGlyphs" style="font-family:'Liberation Mono',monospace">No</text>
<text x="630.6" y="185.3" font-family="Liberation Mono" font-weight="bold" font-size="12" fill="#222" textLength="42" lengthAdjust="spacingAndGlyphs" style="font-family:'Liberation Mono',monospace">Stress</text>
<text x="667.7" y="129.8" font-family="Liberation Mono" font-weight="bold" font-size="12" fill="#1E4A10" textLength="35.3" lengthAdjust="spacingAndGlyphs" style="font-family:'Liberation Mono',monospace">Watch</text>
<text x="719.9" y="101.7" font-family="Liberation Mono" font-weight="bold" font-size="12" fill="#3A2008" textLength="50" lengthAdjust="spacingAndGlyphs" style="font-family:'Liberation Mono',monospace">Warning</text>
<text x="783.4" y="122.4" font-family="Liberation Mono" font-weight="bold" font-size="12" fill="#8A1010" textLength="35" lengthAdjust="spacingAndGlyphs" style="font-family:'Liberation Mono',monospace">Alert</text>
<text x="776" y="137.3" font-family="Liberation Mono" font-weight="bold" font-size="12" fill="#8A1010" textLength="49.8" lengthAdjust="spacingAndGlyphs" style="font-family:'Liberation Mono',monospace">Level 1</text>
<text x="817.3" y="170" font-family="Liberation Mono" font-weight="bold" font-size="12" fill="#3A0606" textLength="35" lengthAdjust="spacingAndGlyphs" style="font-family:'Liberation Mono',monospace">Alert</text>
<text x="812" y="184.7" font-family="Liberation Mono" font-weight="bold" font-size="12" fill="#3A0606" textLength="50.9" lengthAdjust="spacingAndGlyphs" style="font-family:'Liberation Mono',monospace">Level 2</text>
<circle cx="744.3" cy="144.7" r="3.6" fill="#9EA8B8"/>
<polygon transform="translate(744.3,144.7) rotate(12.90)" points="0.0,-1.0 23.5,-1.0 23.5,-3.5 30.5,0.0 23.5,3.5 23.5,1.0 0.0,1.0" fill="#9AA4B4" />
<polygon transform="translate(762.5,178.5) rotate(-51.40)" points="0.0,-4.0 32.5,-4.0 32.5,-8.5 42.5,0.0 32.5,8.5 32.5,4.0 0.0,4.0" fill="#000" stroke="#fff" stroke-width="1.2"/>
<g transform="translate(744.5,199) scale(1.0)" stroke-linecap="round" stroke-linejoin="round">
<path d="M-5,-5 L-9,-8 L-15.2,-10.5 M-4,-7 L-7,-12 L-10.2,-16.7 M-2,-8 L-3,-14 L-4.1,-19.1 M0,-8 L1,-13 L1.5,-17.3 M2,-7 L4,-14 L5.2,-22.8 M5,-19 L3.3,-22.3 M4,-12 L7,-15 L8.9,-17.9 M4,-6 L8,-9 L10.7,-12.3 M-7,-12 L-9.5,-13" fill="none" stroke="#2678B0" stroke-width="2.3"/>
<path d="M-6.5,0 L6.5,0 L7,-3 L5,-6 L2,-8.5 L-2,-8.5 L-5,-6 L-7,-3 Z" fill="#2C98D8" stroke="#2C98D8" stroke-width="1"/>
</g>
<text x="626" y="219.6" font-size="13.3" fill="#111" textLength="238" lengthAdjust="spacing">Current Coral Bleaching Alert Level</text>
<path d="M651.00,327.50 A94.5,94.5 0 0 1 669.05,271.95 L720.66,309.45 A30.7,30.7 0 0 0 714.80,327.50 Z" fill="#C0FAF6" stroke="#111" stroke-width="1.2" stroke-linejoin="round"/>
<path d="M669.05,271.95 A94.5,94.5 0 0 1 716.30,237.63 L736.01,298.30 A30.7,30.7 0 0 0 720.66,309.45 Z" fill="#F8D4A5" stroke="#111" stroke-width="1.2" stroke-linejoin="round"/>
<path d="M716.30,237.63 A94.5,94.5 0 0 1 774.70,237.63 L754.99,298.30 A30.7,30.7 0 0 0 736.01,298.30 Z" fill="#F6AA3E" stroke="#111" stroke-width="1.2" stroke-linejoin="round"/>
<path d="M774.70,237.63 A94.5,94.5 0 0 1 821.95,271.95 L770.34,309.45 A30.7,30.7 0 0 0 754.99,298.30 Z" fill="#F32A29" stroke="#111" stroke-width="1.2" stroke-linejoin="round"/>
<path d="M821.95,271.95 A94.5,94.5 0 0 1 840.00,327.50 L776.20,327.50 A30.7,30.7 0 0 0 770.34,309.45 Z" fill="#A8181A" stroke="#111" stroke-width="1.2" stroke-linejoin="round"/>
<path d="M651.0,327.5 L714.8,327.5 M776.2,327.5 L840.0,327.5" stroke="#111" stroke-width="2"/>
<text x="661.7" y="302.2" font-family="Liberation Mono" font-weight="bold" font-size="9" fill="#2A2040" textLength="10.3" lengthAdjust="spacingAndGlyphs" style="font-family:'Liberation Mono',monospace">No</text>
<text x="656.9" y="314.1" font-family="Liberation Mono" font-weight="bold" font-size="9" fill="#2A2040" textLength="32.5" lengthAdjust="spacingAndGlyphs" style="font-family:'Liberation Mono',monospace">Stress</text>
<text x="685" y="271.0" font-family="Liberation Mono" font-weight="bold" font-size="9" fill="#3A2410" textLength="27.7" lengthAdjust="spacingAndGlyphs" style="font-family:'Liberation Mono',monospace">Watch</text>
<text x="726" y="248.5" font-family="Liberation Mono" font-weight="bold" font-size="9" fill="#3A2410" textLength="38.3" lengthAdjust="spacingAndGlyphs" style="font-family:'Liberation Mono',monospace">Warning</text>
<text x="774.9" y="265.0" font-family="Liberation Mono" font-weight="bold" font-size="9" fill="#8A1010" textLength="27.8" lengthAdjust="spacingAndGlyphs" style="font-family:'Liberation Mono',monospace">Alert</text>
<text x="771" y="277.5" font-family="Liberation Mono" font-weight="bold" font-size="9" fill="#8A1010" textLength="37" lengthAdjust="spacingAndGlyphs" style="font-family:'Liberation Mono',monospace">Level 1</text>
<text x="801.3" y="302.2" font-family="Liberation Mono" font-weight="bold" font-size="9" fill="#4A0808" textLength="27.7" lengthAdjust="spacingAndGlyphs" style="font-family:'Liberation Mono',monospace">Alert</text>
<text x="798.7" y="313.5" font-family="Liberation Mono" font-weight="bold" font-size="9" fill="#4A0808" textLength="37" lengthAdjust="spacingAndGlyphs" style="font-family:'Liberation Mono',monospace">Level 2</text>
<polygon transform="translate(767.5,320.7) rotate(-20.85)" points="0.0,-3.5 24.7,-3.5 24.7,-7.0 33.7,0.0 24.7,7.0 24.7,3.5 0.0,3.5" fill="#000" stroke="#fff" stroke-width="1.2"/>
<g transform="translate(743.2,324.2) scale(0.8)" stroke-linecap="round" stroke-linejoin="round">
<path d="M-5,-5 L-9,-8 L-15.2,-10.5 M-4,-7 L-7,-12 L-10.2,-16.7 M-2,-8 L-3,-14 L-4.1,-19.1 M0,-8 L1,-13 L1.5,-17.3 M2,-7 L4,-14 L5.2,-22.8 M5,-19 L3.3,-22.3 M4,-12 L7,-15 L8.9,-17.9 M4,-6 L8,-9 L10.7,-12.3 M-7,-12 L-9.5,-13" fill="none" stroke="#2678B0" stroke-width="2.3"/>
<path d="M-6.5,0 L6.5,0 L7,-3 L5,-6 L2,-8.5 L-2,-8.5 L-5,-6 L-7,-3 Z" fill="#2C98D8" stroke="#2C98D8" stroke-width="1"/>
</g>
<text x="654.5" y="343.5" font-size="12.6" fill="#111" textLength="181.2" lengthAdjust="spacing">Coral Bleaching Alert Level</text>
<text x="679" y="366.5" font-size="12.6" fill="#111" textLength="131.6" lengthAdjust="spacing">Outlook Weeks 1–4</text>
<path d="M651.00,475.60 A94.5,94.5 0 0 1 669.05,420.05 L720.66,457.55 A30.7,30.7 0 0 0 714.80,475.60 Z" fill="#C0FAF6" stroke="#111" stroke-width="1.2" stroke-linejoin="round"/>
<path d="M669.05,420.05 A94.5,94.5 0 0 1 716.30,385.73 L736.01,446.40 A30.7,30.7 0 0 0 720.66,457.55 Z" fill="#F8D4A5" stroke="#111" stroke-width="1.2" stroke-linejoin="round"/>
<path d="M716.30,385.73 A94.5,94.5 0 0 1 774.70,385.73 L754.99,446.40 A30.7,30.7 0 0 0 736.01,446.40 Z" fill="#F6AA3E" stroke="#111" stroke-width="1.2" stroke-linejoin="round"/>
<path d="M774.70,385.73 A94.5,94.5 0 0 1 821.95,420.05 L770.34,457.55 A30.7,30.7 0 0 0 754.99,446.40 Z" fill="#F32A29" stroke="#111" stroke-width="1.2" stroke-linejoin="round"/>
<path d="M821.95,420.05 A94.5,94.5 0 0 1 840.00,475.60 L776.20,475.60 A30.7,30.7 0 0 0 770.34,457.55 Z" fill="#A8181A" stroke="#111" stroke-width="1.2" stroke-linejoin="round"/>
<path d="M651.0,475.6 L714.8,475.6 M776.2,475.6 L840.0,475.6" stroke="#111" stroke-width="2"/>
<text x="661.7" y="450.3" font-family="Liberation Mono" font-weight="bold" font-size="9" fill="#2A2040" textLength="10.3" lengthAdjust="spacingAndGlyphs" style="font-family:'Liberation Mono',monospace">No</text>
<text x="656.9" y="462.20000000000005" font-family="Liberation Mono" font-weight="bold" font-size="9" fill="#2A2040" textLength="32.5" lengthAdjust="spacingAndGlyphs" style="font-family:'Liberation Mono',monospace">Stress</text>
<text x="685" y="419.1" font-family="Liberation Mono" font-weight="bold" font-size="9" fill="#3A2410" textLength="27.7" lengthAdjust="spacingAndGlyphs" style="font-family:'Liberation Mono',monospace">Watch</text>
<text x="726" y="396.6" font-family="Liberation Mono" font-weight="bold" font-size="9" fill="#3A2410" textLength="38.3" lengthAdjust="spacingAndGlyphs" style="font-family:'Liberation Mono',monospace">Warning</text>
<text x="774.9" y="413.1" font-family="Liberation Mono" font-weight="bold" font-size="9" fill="#8A1010" textLength="27.8" lengthAdjust="spacingAndGlyphs" style="font-family:'Liberation Mono',monospace">Alert</text>
<text x="771" y="425.6" font-family="Liberation Mono" font-weight="bold" font-size="9" fill="#8A1010" textLength="37" lengthAdjust="spacingAndGlyphs" style="font-family:'Liberation Mono',monospace">Level 1</text>
<text x="801.3" y="450.3" font-family="Liberation Mono" font-weight="bold" font-size="9" fill="#4A0808" textLength="27.7" lengthAdjust="spacingAndGlyphs" style="font-family:'Liberation Mono',monospace">Alert</text>
<text x="798.7" y="461.6" font-family="Liberation Mono" font-weight="bold" font-size="9" fill="#4A0808" textLength="37" lengthAdjust="spacingAndGlyphs" style="font-family:'Liberation Mono',monospace">Level 2</text>
<polygon transform="translate(767.5,468.8) rotate(-20.85)" points="0.0,-3.5 24.7,-3.5 24.7,-7.0 33.7,0.0 24.7,7.0 24.7,3.5 0.0,3.5" fill="#000" stroke="#fff" stroke-width="1.2"/>
<g transform="translate(743.2,472.3) scale(0.8)" stroke-linecap="round" stroke-linejoin="round">
<path d="M-5,-5 L-9,-8 L-15.2,-10.5 M-4,-7 L-7,-12 L-10.2,-16.7 M-2,-8 L-3,-14 L-4.1,-19.1 M0,-8 L1,-13 L1.5,-17.3 M2,-7 L4,-14 L5.2,-22.8 M5,-19 L3.3,-22.3 M4,-12 L7,-15 L8.9,-17.9 M4,-6 L8,-9 L10.7,-12.3 M-7,-12 L-9.5,-13" fill="none" stroke="#2678B0" stroke-width="2.3"/>
<path d="M-6.5,0 L6.5,0 L7,-3 L5,-6 L2,-8.5 L-2,-8.5 L-5,-6 L-7,-3 Z" fill="#2C98D8" stroke="#2C98D8" stroke-width="1"/>
</g>
<text x="654.5" y="491.6" font-size="12.6" fill="#111" textLength="181.2" lengthAdjust="spacing">Coral Bleaching Alert Level</text>
<text x="679" y="514.6" font-size="12.6" fill="#111" textLength="131.6" lengthAdjust="spacing">Outlook Weeks 5–8</text>
<path d="M651.00,623.80 A94.5,94.5 0 0 1 669.05,568.25 L720.66,605.75 A30.7,30.7 0 0 0 714.80,623.80 Z" fill="#C0FAF6" stroke="#111" stroke-width="1.2" stroke-linejoin="round"/>
<path d="M669.05,568.25 A94.5,94.5 0 0 1 716.30,533.93 L736.01,594.60 A30.7,30.7 0 0 0 720.66,605.75 Z" fill="#F8D4A5" stroke="#111" stroke-width="1.2" stroke-linejoin="round"/>
<path d="M716.30,533.93 A94.5,94.5 0 0 1 774.70,533.93 L754.99,594.60 A30.7,30.7 0 0 0 736.01,594.60 Z" fill="#F6AA3E" stroke="#111" stroke-width="1.2" stroke-linejoin="round"/>
<path d="M774.70,533.93 A94.5,94.5 0 0 1 821.95,568.25 L770.34,605.75 A30.7,30.7 0 0 0 754.99,594.60 Z" fill="#F32A29" stroke="#111" stroke-width="1.2" stroke-linejoin="round"/>
<path d="M821.95,568.25 A94.5,94.5 0 0 1 840.00,623.80 L776.20,623.80 A30.7,30.7 0 0 0 770.34,605.75 Z" fill="#A8181A" stroke="#111" stroke-width="1.2" stroke-linejoin="round"/>
<path d="M651.0,623.8 L714.8,623.8 M776.2,623.8 L840.0,623.8" stroke="#111" stroke-width="2"/>
<text x="661.7" y="598.5" font-family="Liberation Mono" font-weight="bold" font-size="9" fill="#2A2040" textLength="10.3" lengthAdjust="spacingAndGlyphs" style="font-family:'Liberation Mono',monospace">No</text>
<text x="656.9" y="610.4" font-family="Liberation Mono" font-weight="bold" font-size="9" fill="#2A2040" textLength="32.5" lengthAdjust="spacingAndGlyphs" style="font-family:'Liberation Mono',monospace">Stress</text>
<text x="685" y="567.3" font-family="Liberation Mono" font-weight="bold" font-size="9" fill="#3A2410" textLength="27.7" lengthAdjust="spacingAndGlyphs" style="font-family:'Liberation Mono',monospace">Watch</text>
<text x="726" y="544.8" font-family="Liberation Mono" font-weight="bold" font-size="9" fill="#3A2410" textLength="38.3" lengthAdjust="spacingAndGlyphs" style="font-family:'Liberation Mono',monospace">Warning</text>
<text x="774.9" y="561.3" font-family="Liberation Mono" font-weight="bold" font-size="9" fill="#8A1010" textLength="27.8" lengthAdjust="spacingAndGlyphs" style="font-family:'Liberation Mono',monospace">Alert</text>
<text x="771" y="573.8" font-family="Liberation Mono" font-weight="bold" font-size="9" fill="#8A1010" textLength="37" lengthAdjust="spacingAndGlyphs" style="font-family:'Liberation Mono',monospace">Level 1</text>
<text x="801.3" y="598.5" font-family="Liberation Mono" font-weight="bold" font-size="9" fill="#4A0808" textLength="27.7" lengthAdjust="spacingAndGlyphs" style="font-family:'Liberation Mono',monospace">Alert</text>
<text x="798.7" y="609.8" font-family="Liberation Mono" font-weight="bold" font-size="9" fill="#4A0808" textLength="37" lengthAdjust="spacingAndGlyphs" style="font-family:'Liberation Mono',monospace">Level 2</text>
<polygon transform="translate(767.5,617.0) rotate(-20.85)" points="0.0,-3.5 24.7,-3.5 24.7,-7.0 33.7,0.0 24.7,7.0 24.7,3.5 0.0,3.5" fill="#000" stroke="#fff" stroke-width="1.2"/>
<g transform="translate(743.2,620.5) scale(0.8)" stroke-linecap="round" stroke-linejoin="round">
<path d="M-5,-5 L-9,-8 L-15.2,-10.5 M-4,-7 L-7,-12 L-10.2,-16.7 M-2,-8 L-3,-14 L-4.1,-19.1 M0,-8 L1,-13 L1.5,-17.3 M2,-7 L4,-14 L5.2,-22.8 M5,-19 L3.3,-22.3 M4,-12 L7,-15 L8.9,-17.9 M4,-6 L8,-9 L10.7,-12.3 M-7,-12 L-9.5,-13" fill="none" stroke="#2678B0" stroke-width="2.3"/>
<path d="M-6.5,0 L6.5,0 L7,-3 L5,-6 L2,-8.5 L-2,-8.5 L-5,-6 L-7,-3 Z" fill="#2C98D8" stroke="#2C98D8" stroke-width="1"/>
</g>
<text x="654.5" y="639.8" font-size="12.6" fill="#111" textLength="181.2" lengthAdjust="spacing">Coral Bleaching Alert Level</text>
<text x="679" y="662.8" font-size="12.6" fill="#111" textLength="131.6" lengthAdjust="spacing">Outlook Weeks 9–12</text>
</svg></body></html>
